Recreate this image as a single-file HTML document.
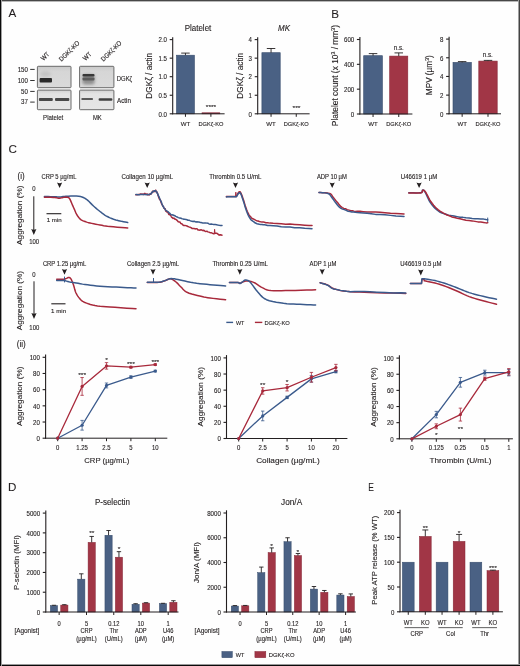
<!DOCTYPE html><html><head><meta charset="utf-8"><style>html,body{margin:0;padding:0;background:#fff;}svg{display:block;will-change:transform;font-family:"Liberation Sans",sans-serif;}</style></head><body>
<svg width="520" height="666" viewBox="0 0 520 666">
<defs><filter id="blur1" x="-50%" y="-50%" width="200%" height="200%"><feGaussianBlur stdDeviation="0.7"/></filter><filter id="blur2" x="-50%" y="-50%" width="200%" height="200%"><feGaussianBlur stdDeviation="1.4"/></filter><filter id="blur05" x="-50%" y="-50%" width="200%" height="200%"><feGaussianBlur stdDeviation="0.45"/></filter><linearGradient id="gu" x1="0" x2="0" y1="0" y2="1"><stop offset="0" stop-color="#c9c9c9"/><stop offset="0.25" stop-color="#d6d6d6"/><stop offset="1" stop-color="#dadada"/></linearGradient><linearGradient id="gl" x1="0" x2="0" y1="0" y2="1"><stop offset="0" stop-color="#d2d2d2"/><stop offset="0.2" stop-color="#e3e3e3"/><stop offset="1" stop-color="#e6e6e6"/></linearGradient></defs>
<rect x="0" y="0" width="520" height="666" fill="#fefefe"/>
<text x="8.60" y="17.19" font-size="11.6" text-anchor="start" fill="#231f20" stroke="#231f20" stroke-width="0.1" >A</text>
<text x="331.20" y="17.59" font-size="11.6" text-anchor="start" fill="#231f20" stroke="#231f20" stroke-width="0.1" >B</text>
<text x="8.40" y="152.99" font-size="11.6" text-anchor="start" fill="#231f20" stroke="#231f20" stroke-width="0.1" >C</text>
<text x="7.90" y="490.59" font-size="11.6" text-anchor="start" fill="#231f20" stroke="#231f20" stroke-width="0.1" >D</text>
<text x="368.30" y="490.69" font-size="11.6" text-anchor="start" fill="#231f20" textLength="5.60" lengthAdjust="spacingAndGlyphs" stroke="#231f20" stroke-width="0.1" >E</text>
<text transform="translate(43.40,61.10) rotate(-45)" x="0" y="0" font-size="6.6" fill="#231f20" stroke="#231f20" stroke-width="0.12" textLength="9.23" lengthAdjust="spacingAndGlyphs">WT</text>
<text transform="translate(61.60,61.80) rotate(-45)" x="0" y="0" font-size="6.6" fill="#231f20" stroke="#231f20" stroke-width="0.12" textLength="26.05" lengthAdjust="spacingAndGlyphs">DGKζ-KO</text>
<text transform="translate(85.60,61.10) rotate(-45)" x="0" y="0" font-size="6.6" fill="#231f20" stroke="#231f20" stroke-width="0.12" textLength="9.23" lengthAdjust="spacingAndGlyphs">WT</text>
<text transform="translate(103.60,61.80) rotate(-45)" x="0" y="0" font-size="6.6" fill="#231f20" stroke="#231f20" stroke-width="0.12" textLength="26.05" lengthAdjust="spacingAndGlyphs">DGKζ-KO</text>
<text x="27.90" y="71.74" font-size="6.8" text-anchor="end" fill="#231f20" textLength="10.21" lengthAdjust="spacingAndGlyphs" stroke="#231f20" stroke-width="0.12" >150</text>
<line x1="30.20" y1="69.40" x2="34.70" y2="69.40" stroke="#333" stroke-width="1.0" />
<text x="27.90" y="82.84" font-size="6.8" text-anchor="end" fill="#231f20" textLength="10.21" lengthAdjust="spacingAndGlyphs" stroke="#231f20" stroke-width="0.12" >100</text>
<line x1="30.20" y1="80.50" x2="34.70" y2="80.50" stroke="#333" stroke-width="1.0" />
<text x="27.90" y="93.74" font-size="6.8" text-anchor="end" fill="#231f20" textLength="6.81" lengthAdjust="spacingAndGlyphs" stroke="#231f20" stroke-width="0.12" >50</text>
<line x1="30.20" y1="91.40" x2="34.70" y2="91.40" stroke="#333" stroke-width="1.0" />
<text x="27.90" y="104.44" font-size="6.8" text-anchor="end" fill="#231f20" textLength="6.81" lengthAdjust="spacingAndGlyphs" stroke="#231f20" stroke-width="0.12" >37</text>
<line x1="30.20" y1="102.10" x2="34.70" y2="102.10" stroke="#333" stroke-width="1.0" />
<rect x="37.4" y="66.3" width="33.60" height="21.4" rx="0.8" fill="url(#gu)" stroke="#6a6a6a" stroke-width="1.0"/>
<rect x="37.4" y="90.1" width="33.60" height="19.6" rx="0.8" fill="url(#gl)" stroke="#6a6a6a" stroke-width="1.0"/>
<rect x="79.6" y="66.3" width="34.30" height="21.4" rx="0.8" fill="url(#gu)" stroke="#6a6a6a" stroke-width="1.0"/>
<rect x="79.6" y="90.1" width="34.30" height="19.6" rx="0.8" fill="url(#gl)" stroke="#6a6a6a" stroke-width="1.0"/>
<g filter="url(#blur2)"><ellipse cx="45.5" cy="74.0" rx="5.5" ry="3.0" fill="#c4c4c4"/></g>
<g filter="url(#blur1)"><rect x="39.6" y="77.9" width="12.4" height="4.6" rx="1.0" fill="#2a2a2a"/></g>
<g filter="url(#blur1)"><rect x="38.9" y="98.1" width="13.9" height="3.0" rx="1.0" fill="#484848"/><rect x="55.0" y="98.1" width="14.3" height="3.0" rx="1.0" fill="#484848"/></g>
<g filter="url(#blur2)"><rect x="82.5" y="74.5" width="12" height="10" rx="2" fill="#8e8e8e"/></g>
<g filter="url(#blur1)"><rect x="82.5" y="73.9" width="12" height="2.6" rx="1.0" fill="#383838"/><rect x="82.5" y="77.6" width="12" height="2.8" rx="1.0" fill="#5c5c5c"/></g>
<g filter="url(#blur1)"><rect x="81.3" y="98.1" width="11.7" height="1.9" rx="0.8" fill="#5a5a5a"/><rect x="98.6" y="98.2" width="13.8" height="2.6" rx="1.0" fill="#404040"/></g>
<text x="116.80" y="81.40" font-size="6.4" text-anchor="start" fill="#231f20" textLength="15.36" lengthAdjust="spacingAndGlyphs" stroke="#231f20" stroke-width="0.12" >DGKζ</text>
<text x="117.00" y="102.90" font-size="6.4" text-anchor="start" fill="#231f20" textLength="13.90" lengthAdjust="spacingAndGlyphs" stroke="#231f20" stroke-width="0.12" >Actin</text>
<text x="53.20" y="120.20" font-size="6.4" text-anchor="middle" fill="#231f20" textLength="20.20" lengthAdjust="spacingAndGlyphs" stroke="#231f20" stroke-width="0.12" >Platelet</text>
<text x="97.30" y="120.00" font-size="6.4" text-anchor="middle" fill="#231f20" textLength="8.80" lengthAdjust="spacingAndGlyphs" stroke="#231f20" stroke-width="0.12" >MK</text>
<text x="198.00" y="30.66" font-size="8.3" text-anchor="middle" fill="#231f20" textLength="26.58" lengthAdjust="spacingAndGlyphs" stroke="#231f20" stroke-width="0.12" >Platelet</text>
<line x1="172.70" y1="37.20" x2="172.70" y2="114.30" stroke="#231f20" stroke-width="1.1" />
<line x1="169.70" y1="113.80" x2="172.70" y2="113.80" stroke="#231f20" stroke-width="1.1" />
<text x="167.00" y="116.54" font-size="6.8" text-anchor="end" fill="#231f20" textLength="8.51" lengthAdjust="spacingAndGlyphs" stroke="#231f20" stroke-width="0.12" >0.0</text>
<line x1="169.70" y1="95.25" x2="172.70" y2="95.25" stroke="#231f20" stroke-width="1.1" />
<text x="167.00" y="97.99" font-size="6.8" text-anchor="end" fill="#231f20" textLength="8.51" lengthAdjust="spacingAndGlyphs" stroke="#231f20" stroke-width="0.12" >0.5</text>
<line x1="169.70" y1="76.70" x2="172.70" y2="76.70" stroke="#231f20" stroke-width="1.1" />
<text x="167.00" y="79.44" font-size="6.8" text-anchor="end" fill="#231f20" textLength="8.51" lengthAdjust="spacingAndGlyphs" stroke="#231f20" stroke-width="0.12" >1.0</text>
<line x1="169.70" y1="58.15" x2="172.70" y2="58.15" stroke="#231f20" stroke-width="1.1" />
<text x="167.00" y="60.89" font-size="6.8" text-anchor="end" fill="#231f20" textLength="8.51" lengthAdjust="spacingAndGlyphs" stroke="#231f20" stroke-width="0.12" >1.5</text>
<line x1="169.70" y1="39.60" x2="172.70" y2="39.60" stroke="#231f20" stroke-width="1.1" />
<text x="167.00" y="42.34" font-size="6.8" text-anchor="end" fill="#231f20" textLength="8.51" lengthAdjust="spacingAndGlyphs" stroke="#231f20" stroke-width="0.12" >2.0</text>
<rect x="176.50" y="55.20" width="17.90" height="58.60" fill="#4a6184" stroke="#354a6a" stroke-width="0.6" />
<line x1="185.45" y1="53.10" x2="185.45" y2="55.20" stroke="#231f20" stroke-width="0.9" />
<line x1="181.20" y1="53.10" x2="189.70" y2="53.10" stroke="#231f20" stroke-width="0.9" />
<rect x="202.00" y="112.80" width="17.80" height="1.00" fill="#a13646" stroke="#862636" stroke-width="0.6" />
<line x1="172.20" y1="113.80" x2="224.60" y2="113.80" stroke="#231f20" stroke-width="1.0" />
<line x1="185.45" y1="113.80" x2="185.45" y2="116.80" stroke="#231f20" stroke-width="1.0" />
<line x1="210.90" y1="113.80" x2="210.90" y2="116.80" stroke="#231f20" stroke-width="1.0" />
<text x="211.00" y="108.73" font-size="6.2" text-anchor="middle" fill="#231f20" textLength="10.40" lengthAdjust="spacingAndGlyphs" stroke="#231f20" stroke-width="0.12" >****</text>
<text x="185.45" y="125.93" font-size="6.2" text-anchor="middle" fill="#231f20" textLength="9.50" lengthAdjust="spacingAndGlyphs" stroke="#231f20" stroke-width="0.12" >WT</text>
<text x="210.90" y="125.93" font-size="6.2" text-anchor="middle" fill="#231f20" textLength="25.00" lengthAdjust="spacingAndGlyphs" stroke="#231f20" stroke-width="0.12" >DGKζ-KO</text>
<text transform="translate(149.50,75.80) rotate(-90)" x="0" y="2.96" font-size="8.6" text-anchor="middle" fill="#231f20" textLength="45.80" lengthAdjust="spacingAndGlyphs" stroke="#231f20" stroke-width="0.12" >DGKζ / actin</text>
<text x="284.00" y="30.66" font-size="8.3" text-anchor="middle" fill="#231f20" textLength="11.95" lengthAdjust="spacingAndGlyphs" stroke="#231f20" stroke-width="0.12" font-style="italic">MK</text>
<line x1="257.70" y1="37.20" x2="257.70" y2="114.30" stroke="#231f20" stroke-width="1.1" />
<line x1="254.70" y1="113.80" x2="257.70" y2="113.80" stroke="#231f20" stroke-width="1.1" />
<text x="252.00" y="116.54" font-size="6.8" text-anchor="end" fill="#231f20" textLength="3.40" lengthAdjust="spacingAndGlyphs" stroke="#231f20" stroke-width="0.12" >0</text>
<line x1="254.70" y1="95.25" x2="257.70" y2="95.25" stroke="#231f20" stroke-width="1.1" />
<text x="252.00" y="97.99" font-size="6.8" text-anchor="end" fill="#231f20" textLength="3.40" lengthAdjust="spacingAndGlyphs" stroke="#231f20" stroke-width="0.12" >1</text>
<line x1="254.70" y1="76.70" x2="257.70" y2="76.70" stroke="#231f20" stroke-width="1.1" />
<text x="252.00" y="79.44" font-size="6.8" text-anchor="end" fill="#231f20" textLength="3.40" lengthAdjust="spacingAndGlyphs" stroke="#231f20" stroke-width="0.12" >2</text>
<line x1="254.70" y1="58.15" x2="257.70" y2="58.15" stroke="#231f20" stroke-width="1.1" />
<text x="252.00" y="60.89" font-size="6.8" text-anchor="end" fill="#231f20" textLength="3.40" lengthAdjust="spacingAndGlyphs" stroke="#231f20" stroke-width="0.12" >3</text>
<line x1="254.70" y1="39.60" x2="257.70" y2="39.60" stroke="#231f20" stroke-width="1.1" />
<text x="252.00" y="42.34" font-size="6.8" text-anchor="end" fill="#231f20" textLength="3.40" lengthAdjust="spacingAndGlyphs" stroke="#231f20" stroke-width="0.12" >4</text>
<rect x="261.90" y="52.70" width="18.30" height="61.10" fill="#4a6184" stroke="#354a6a" stroke-width="0.6" />
<line x1="271.05" y1="48.50" x2="271.05" y2="52.70" stroke="#231f20" stroke-width="0.9" />
<line x1="266.80" y1="48.50" x2="275.30" y2="48.50" stroke="#231f20" stroke-width="0.9" />
<rect x="287.50" y="113.80" width="17.50" height="0.00" fill="#a13646" stroke="#862636" stroke-width="0.6" />
<line x1="257.20" y1="113.80" x2="309.60" y2="113.80" stroke="#231f20" stroke-width="1.0" />
<line x1="271.05" y1="113.80" x2="271.05" y2="116.80" stroke="#231f20" stroke-width="1.0" />
<line x1="296.25" y1="113.80" x2="296.25" y2="116.80" stroke="#231f20" stroke-width="1.0" />
<text x="296.50" y="109.93" font-size="6.2" text-anchor="middle" fill="#231f20" textLength="7.80" lengthAdjust="spacingAndGlyphs" stroke="#231f20" stroke-width="0.12" >***</text>
<text x="271.05" y="125.93" font-size="6.2" text-anchor="middle" fill="#231f20" textLength="9.50" lengthAdjust="spacingAndGlyphs" stroke="#231f20" stroke-width="0.12" >WT</text>
<text x="296.25" y="125.93" font-size="6.2" text-anchor="middle" fill="#231f20" textLength="25.00" lengthAdjust="spacingAndGlyphs" stroke="#231f20" stroke-width="0.12" >DGKζ-KO</text>
<text transform="translate(240.50,75.80) rotate(-90)" x="0" y="2.96" font-size="8.6" text-anchor="middle" fill="#231f20" textLength="45.80" lengthAdjust="spacingAndGlyphs" stroke="#231f20" stroke-width="0.12" >DGKζ / actin</text>
<line x1="359.90" y1="37.10" x2="359.90" y2="114.50" stroke="#231f20" stroke-width="1.1" />
<line x1="356.90" y1="114.00" x2="359.90" y2="114.00" stroke="#231f20" stroke-width="1.1" />
<text x="354.20" y="116.74" font-size="6.8" text-anchor="end" fill="#231f20" textLength="3.40" lengthAdjust="spacingAndGlyphs" stroke="#231f20" stroke-width="0.12" >0</text>
<line x1="356.90" y1="89.17" x2="359.90" y2="89.17" stroke="#231f20" stroke-width="1.1" />
<text x="354.20" y="91.91" font-size="6.8" text-anchor="end" fill="#231f20" textLength="10.21" lengthAdjust="spacingAndGlyphs" stroke="#231f20" stroke-width="0.12" >200</text>
<line x1="356.90" y1="64.33" x2="359.90" y2="64.33" stroke="#231f20" stroke-width="1.1" />
<text x="354.20" y="67.07" font-size="6.8" text-anchor="end" fill="#231f20" textLength="10.21" lengthAdjust="spacingAndGlyphs" stroke="#231f20" stroke-width="0.12" >400</text>
<line x1="356.90" y1="39.50" x2="359.90" y2="39.50" stroke="#231f20" stroke-width="1.1" />
<text x="354.20" y="42.24" font-size="6.8" text-anchor="end" fill="#231f20" textLength="10.21" lengthAdjust="spacingAndGlyphs" stroke="#231f20" stroke-width="0.12" >600</text>
<rect x="363.70" y="55.70" width="18.70" height="58.30" fill="#4a6184" stroke="#354a6a" stroke-width="0.6" />
<line x1="373.05" y1="53.60" x2="373.05" y2="55.70" stroke="#231f20" stroke-width="0.9" />
<line x1="368.80" y1="53.60" x2="377.30" y2="53.60" stroke="#231f20" stroke-width="0.9" />
<rect x="389.70" y="56.10" width="18.10" height="57.90" fill="#a13646" stroke="#862636" stroke-width="0.6" />
<line x1="398.75" y1="52.90" x2="398.75" y2="56.10" stroke="#231f20" stroke-width="0.9" />
<line x1="394.50" y1="52.90" x2="403.00" y2="52.90" stroke="#231f20" stroke-width="0.9" />
<line x1="359.40" y1="114.00" x2="412.40" y2="114.00" stroke="#231f20" stroke-width="1.0" />
<line x1="373.05" y1="114.00" x2="373.05" y2="117.00" stroke="#231f20" stroke-width="1.0" />
<line x1="398.75" y1="114.00" x2="398.75" y2="117.00" stroke="#231f20" stroke-width="1.0" />
<text x="398.80" y="50.27" font-size="6.6" text-anchor="middle" fill="#231f20" textLength="10.11" lengthAdjust="spacingAndGlyphs" stroke="#231f20" stroke-width="0.12" >n.s.</text>
<text x="373.05" y="125.93" font-size="6.2" text-anchor="middle" fill="#231f20" textLength="9.50" lengthAdjust="spacingAndGlyphs" stroke="#231f20" stroke-width="0.12" >WT</text>
<text x="398.75" y="125.93" font-size="6.2" text-anchor="middle" fill="#231f20" textLength="25.00" lengthAdjust="spacingAndGlyphs" stroke="#231f20" stroke-width="0.12" >DGKζ-KO</text>
<text transform="translate(335.2,75.6) rotate(-90)" x="0" y="2.9" font-size="8.4" text-anchor="middle" fill="#231f20" stroke="#231f20" stroke-width="0.12">Platelet count (x 10<tspan font-size="5.2" dy="-3.2">3</tspan><tspan dy="3.2"> / mm</tspan><tspan font-size="5.2" dy="-3.2">3</tspan><tspan dy="3.2">)</tspan></text>
<line x1="449.10" y1="36.70" x2="449.10" y2="114.30" stroke="#231f20" stroke-width="1.1" />
<line x1="446.10" y1="113.80" x2="449.10" y2="113.80" stroke="#231f20" stroke-width="1.1" />
<text x="443.40" y="116.54" font-size="6.8" text-anchor="end" fill="#231f20" textLength="3.40" lengthAdjust="spacingAndGlyphs" stroke="#231f20" stroke-width="0.12" >0</text>
<line x1="446.10" y1="95.12" x2="449.10" y2="95.12" stroke="#231f20" stroke-width="1.1" />
<text x="443.40" y="97.86" font-size="6.8" text-anchor="end" fill="#231f20" textLength="3.40" lengthAdjust="spacingAndGlyphs" stroke="#231f20" stroke-width="0.12" >2</text>
<line x1="446.10" y1="76.45" x2="449.10" y2="76.45" stroke="#231f20" stroke-width="1.1" />
<text x="443.40" y="79.19" font-size="6.8" text-anchor="end" fill="#231f20" textLength="3.40" lengthAdjust="spacingAndGlyphs" stroke="#231f20" stroke-width="0.12" >4</text>
<line x1="446.10" y1="57.78" x2="449.10" y2="57.78" stroke="#231f20" stroke-width="1.1" />
<text x="443.40" y="60.51" font-size="6.8" text-anchor="end" fill="#231f20" textLength="3.40" lengthAdjust="spacingAndGlyphs" stroke="#231f20" stroke-width="0.12" >6</text>
<line x1="446.10" y1="39.10" x2="449.10" y2="39.10" stroke="#231f20" stroke-width="1.1" />
<text x="443.40" y="41.84" font-size="6.8" text-anchor="end" fill="#231f20" textLength="3.40" lengthAdjust="spacingAndGlyphs" stroke="#231f20" stroke-width="0.12" >8</text>
<rect x="453.00" y="62.40" width="18.30" height="51.40" fill="#4a6184" stroke="#354a6a" stroke-width="0.6" />
<line x1="462.15" y1="61.60" x2="462.15" y2="62.40" stroke="#231f20" stroke-width="0.9" />
<line x1="457.90" y1="61.60" x2="466.40" y2="61.60" stroke="#231f20" stroke-width="0.9" />
<rect x="478.80" y="61.10" width="18.40" height="52.70" fill="#a13646" stroke="#862636" stroke-width="0.6" />
<line x1="488.00" y1="60.40" x2="488.00" y2="61.10" stroke="#231f20" stroke-width="0.9" />
<line x1="483.75" y1="60.40" x2="492.25" y2="60.40" stroke="#231f20" stroke-width="0.9" />
<line x1="448.60" y1="113.80" x2="501.00" y2="113.80" stroke="#231f20" stroke-width="1.0" />
<line x1="462.15" y1="113.80" x2="462.15" y2="116.80" stroke="#231f20" stroke-width="1.0" />
<line x1="488.00" y1="113.80" x2="488.00" y2="116.80" stroke="#231f20" stroke-width="1.0" />
<text x="487.80" y="57.07" font-size="6.6" text-anchor="middle" fill="#231f20" textLength="10.11" lengthAdjust="spacingAndGlyphs" stroke="#231f20" stroke-width="0.12" >n.s.</text>
<text x="462.15" y="125.93" font-size="6.2" text-anchor="middle" fill="#231f20" textLength="9.50" lengthAdjust="spacingAndGlyphs" stroke="#231f20" stroke-width="0.12" >WT</text>
<text x="488.00" y="125.93" font-size="6.2" text-anchor="middle" fill="#231f20" textLength="25.00" lengthAdjust="spacingAndGlyphs" stroke="#231f20" stroke-width="0.12" >DGKζ-KO</text>
<text transform="translate(429.2,75.2) rotate(-90)" x="0" y="2.9" font-size="8.2" text-anchor="middle" fill="#231f20" stroke="#231f20" stroke-width="0.12">MPV (µm<tspan font-size="5.2" dy="-3.2">3</tspan><tspan dy="3.2">)</tspan></text>
<text x="17.60" y="179.49" font-size="8.4" text-anchor="start" fill="#231f20" textLength="7.10" lengthAdjust="spacingAndGlyphs" stroke="#231f20" stroke-width="0.12" >(i)</text>
<text x="33.80" y="190.87" font-size="6.6" text-anchor="middle" fill="#231f20" textLength="3.30" lengthAdjust="spacingAndGlyphs" stroke="#231f20" stroke-width="0.12" >0</text>
<line x1="33.80" y1="196.30" x2="33.80" y2="231.50" stroke="#231f20" stroke-width="1.0" />
<path d="M31.20,229.00 Q33.80,230.40 36.40,229.00 L33.80,235.00 Z" fill="#231f20"/>
<text x="34.10" y="244.47" font-size="6.6" text-anchor="middle" fill="#231f20" textLength="9.91" lengthAdjust="spacingAndGlyphs" stroke="#231f20" stroke-width="0.12" >100</text>
<text transform="translate(19.30,215.20) rotate(-90)" x="0" y="2.72" font-size="7.9" text-anchor="middle" fill="#231f20" textLength="59.40" lengthAdjust="spacingAndGlyphs" stroke="#231f20" stroke-width="0.12" >Aggregation (%)</text>
<text x="34.00" y="276.57" font-size="6.6" text-anchor="middle" fill="#231f20" textLength="3.30" lengthAdjust="spacingAndGlyphs" stroke="#231f20" stroke-width="0.12" >0</text>
<line x1="34.00" y1="281.30" x2="34.00" y2="315.50" stroke="#231f20" stroke-width="1.0" />
<path d="M31.40,313.00 Q34.00,314.40 36.60,313.00 L34.00,319.00 Z" fill="#231f20"/>
<text x="34.30" y="329.57" font-size="6.6" text-anchor="middle" fill="#231f20" textLength="9.91" lengthAdjust="spacingAndGlyphs" stroke="#231f20" stroke-width="0.12" >100</text>
<text transform="translate(19.70,300.60) rotate(-90)" x="0" y="2.72" font-size="7.9" text-anchor="middle" fill="#231f20" textLength="59.40" lengthAdjust="spacingAndGlyphs" stroke="#231f20" stroke-width="0.12" >Aggregation (%)</text>
<line x1="46.50" y1="213.70" x2="61.30" y2="213.70" stroke="#231f20" stroke-width="1.1" />
<text x="54.20" y="222.13" font-size="6.2" text-anchor="middle" fill="#231f20" textLength="15.00" lengthAdjust="spacingAndGlyphs" stroke="#231f20" stroke-width="0.12" >1 min</text>
<line x1="51.30" y1="303.80" x2="65.50" y2="303.80" stroke="#231f20" stroke-width="1.1" />
<text x="58.60" y="312.63" font-size="6.2" text-anchor="middle" fill="#231f20" textLength="15.00" lengthAdjust="spacingAndGlyphs" stroke="#231f20" stroke-width="0.12" >1 min</text>
<text x="41.60" y="179.47" font-size="6.3" text-anchor="start" fill="#231f20" textLength="34.90" lengthAdjust="spacingAndGlyphs" stroke="#231f20" stroke-width="0.12" >CRP 5 µg/mL</text>
<path d="M57.00,182.40 Q59.60,184.00 62.20,182.40 L59.60,188.00 Z" fill="#231f20"/>
<text x="121.50" y="179.47" font-size="6.3" text-anchor="start" fill="#231f20" textLength="51.60" lengthAdjust="spacingAndGlyphs" stroke="#231f20" stroke-width="0.12" >Collagen 10 µg/mL</text>
<path d="M144.60,182.40 Q147.20,184.00 149.80,182.40 L147.20,188.00 Z" fill="#231f20"/>
<text x="209.20" y="179.47" font-size="6.3" text-anchor="start" fill="#231f20" textLength="52.30" lengthAdjust="spacingAndGlyphs" stroke="#231f20" stroke-width="0.12" >Thrombin 0.5 U/mL</text>
<path d="M232.90,182.40 Q235.50,184.00 238.10,182.40 L235.50,188.00 Z" fill="#231f20"/>
<text x="316.90" y="179.47" font-size="6.3" text-anchor="start" fill="#231f20" textLength="30.00" lengthAdjust="spacingAndGlyphs" stroke="#231f20" stroke-width="0.12" >ADP 10 µM</text>
<path d="M329.60,182.40 Q332.20,184.00 334.80,182.40 L332.20,188.00 Z" fill="#231f20"/>
<text x="400.80" y="179.47" font-size="6.3" text-anchor="start" fill="#231f20" textLength="36.40" lengthAdjust="spacingAndGlyphs" stroke="#231f20" stroke-width="0.12" >U46619 1 µM</text>
<path d="M416.50,182.40 Q419.10,184.00 421.70,182.40 L419.10,188.00 Z" fill="#231f20"/>
<text x="42.90" y="266.17" font-size="6.3" text-anchor="start" fill="#231f20" textLength="43.30" lengthAdjust="spacingAndGlyphs" stroke="#231f20" stroke-width="0.12" >CRP 1.25 µg/mL</text>
<path d="M61.90,268.90 Q64.50,270.50 67.10,268.90 L64.50,274.80 Z" fill="#231f20"/>
<text x="127.00" y="266.17" font-size="6.3" text-anchor="start" fill="#231f20" textLength="52.20" lengthAdjust="spacingAndGlyphs" stroke="#231f20" stroke-width="0.12" >Collagen 2.5 µg/mL</text>
<path d="M150.40,268.90 Q153.00,270.50 155.60,268.90 L153.00,274.80 Z" fill="#231f20"/>
<text x="212.40" y="266.17" font-size="6.3" text-anchor="start" fill="#231f20" textLength="55.60" lengthAdjust="spacingAndGlyphs" stroke="#231f20" stroke-width="0.12" >Thrombin 0.25 U/mL</text>
<path d="M237.20,268.90 Q239.80,270.50 242.40,268.90 L239.80,274.80 Z" fill="#231f20"/>
<text x="309.50" y="266.17" font-size="6.3" text-anchor="start" fill="#231f20" textLength="26.90" lengthAdjust="spacingAndGlyphs" stroke="#231f20" stroke-width="0.12" >ADP 1 µM</text>
<path d="M319.60,268.90 Q322.20,270.50 324.80,268.90 L322.20,274.80 Z" fill="#231f20"/>
<text x="400.20" y="266.17" font-size="6.3" text-anchor="start" fill="#231f20" textLength="41.30" lengthAdjust="spacingAndGlyphs" stroke="#231f20" stroke-width="0.12" >U46619 0.5 µM</text>
<path d="M418.10,269.40 Q420.80,271.00 423.50,269.40 L420.80,275.60 Z" fill="#231f20"/>
<polyline points="44.40,196.50 45.93,196.54 48.15,196.60 50.65,196.67 53.07,196.74 55.00,196.80 56.34,196.86 57.36,196.93 58.20,196.99 59.03,197.02 60.00,197.00 61.03,196.91 62.01,196.75 63.07,196.57 64.36,196.41 66.00,196.30 68.20,196.21 70.86,196.12 73.69,196.07 76.40,196.12 78.70,196.30 80.50,196.60 82.00,196.98 83.32,197.48 84.61,198.14 86.00,199.00 87.50,200.15 89.03,201.56 90.56,203.10 92.06,204.63 93.50,206.00 94.87,207.22 96.20,208.37 97.48,209.46 98.75,210.50 100.00,211.50 101.22,212.45 102.39,213.36 103.55,214.22 104.74,215.03 106.00,215.80 107.34,216.53 108.73,217.22 110.15,217.86 111.58,218.45 113.00,219.00 114.39,219.48 115.77,219.91 117.15,220.29 118.56,220.65 120.00,221.00 121.62,221.36 123.40,221.71 125.14,222.03 126.64,222.30 127.70,222.50" fill="none" stroke="#3a5a8c" stroke-width="1.5" stroke-linejoin="round" stroke-linecap="round" />
<polyline points="44.40,197.20 45.95,197.23 48.19,197.27 50.73,197.33 53.13,197.40 55.00,197.50 56.22,197.65 57.08,197.86 57.72,198.07 58.31,198.23 59.00,198.30 59.80,198.23 60.60,198.07 61.40,197.86 62.20,197.65 63.00,197.50 63.82,197.38 64.67,197.27 65.51,197.18 66.30,197.15 67.00,197.20 67.60,197.29 68.11,197.40 68.57,197.60 69.02,197.95 69.50,198.50 70.00,199.33 70.50,200.40 71.01,201.61 71.51,202.84 72.00,204.00 72.48,205.08 72.96,206.16 73.43,207.23 73.91,208.31 74.40,209.40 74.89,210.52 75.37,211.67 75.86,212.82 76.40,213.94 77.00,215.00 77.68,216.03 78.41,217.04 79.19,218.00 80.00,218.87 80.80,219.60 81.60,220.16 82.41,220.57 83.24,220.90 84.10,221.19 85.00,221.50 85.87,221.82 86.70,222.10 87.60,222.38 88.67,222.67 90.00,223.00 91.68,223.38 93.64,223.79 95.76,224.21 97.92,224.62 100.00,225.00 101.88,225.33 103.63,225.64 105.45,225.92 107.51,226.21 110.00,226.50 113.33,226.82 117.38,227.17 121.52,227.51 125.17,227.80 127.70,228.00" fill="none" stroke="#a8293b" stroke-width="1.5" stroke-linejoin="round" stroke-linecap="round" />
<polyline points="135.90,194.80 136.26,194.76 136.72,194.71 137.25,194.64 137.86,194.56 138.51,194.49 139.20,194.41 139.91,194.34 140.62,193.91 141.33,194.11 142.00,193.96 142.68,194.22 143.41,194.41 144.16,193.75 144.93,193.38 145.69,194.38 146.44,194.10 147.17,193.93 147.84,194.91 148.46,194.63 149.00,194.96 149.47,194.54 149.87,194.47 150.22,193.65 150.52,193.81 150.79,194.11 151.04,193.66 151.28,193.62 151.51,193.40 151.75,192.33 152.00,192.68 152.26,192.51 152.51,191.90 152.74,191.10 152.98,191.74 153.20,191.40 153.42,191.47 153.64,191.65 153.86,191.44 154.08,191.58 154.30,190.91 154.52,191.14 154.74,190.75 154.96,191.26 155.17,191.47 155.39,190.52 155.60,190.17 155.82,190.20 156.04,191.38 156.27,191.37 156.50,191.81 156.73,191.77 156.94,192.24 157.16,192.54 157.37,192.90 157.59,193.68 157.82,194.38 158.07,195.50 158.35,196.10 158.66,197.12 159.00,197.94 159.39,199.01 159.82,199.64 160.29,199.81 160.78,201.46 161.29,203.02 161.81,204.29 162.33,205.00 162.84,206.06 163.33,206.33 163.80,207.71 164.24,208.37 164.68,208.62 165.10,208.72 165.52,210.15 165.93,211.31 166.34,210.87 166.75,211.88 167.16,212.08 167.58,212.05 168.00,212.48 168.41,213.57 168.80,214.46 169.18,213.91 169.55,214.61 169.93,214.34 170.33,215.32 170.76,215.46 171.22,216.51 171.73,217.40 172.30,217.45 172.92,218.45 173.59,218.30 174.29,218.22 175.02,219.24 175.79,219.29 176.59,219.87 177.41,220.77 178.26,221.79 179.12,221.94 180.00,222.09 180.91,223.55 181.85,223.71 182.83,224.91 183.83,225.61 184.86,225.43 185.89,225.63 186.93,226.00 187.96,226.53 188.99,226.90 190.00,227.21 191.00,227.61 192.00,228.42 193.00,228.38 194.00,228.39 195.00,228.95 196.00,228.70 197.00,228.80 198.00,229.93 199.00,230.00 200.00,230.20 200.99,229.69 201.97,230.12 202.94,230.69 203.90,230.31 204.88,231.07 205.86,231.60 206.85,231.18 207.87,231.89 208.92,232.14 210.00,232.70 211.17,232.67 212.46,233.31 213.83,233.83 215.23,233.25 216.62,233.17 217.97,234.13 219.22,235.14 220.34,234.76 221.28,234.94 222.00,235.28" fill="none" stroke="#a8293b" stroke-width="1.5" stroke-linejoin="round" stroke-linecap="round" />
<polyline points="214.30,233.00 214.60,229.30 215.00,233.20" fill="none" stroke="#a8293b" stroke-width="1.0" stroke-linejoin="round" stroke-linecap="round" />
<polyline points="135.90,194.60 136.72,194.61 137.84,194.63 139.19,194.67 140.68,194.59 142.26,194.60 143.86,194.57 145.40,194.59 146.82,194.71 148.04,194.55 149.00,194.46 149.71,194.57 150.26,194.07 150.66,194.03 150.96,193.99 151.18,193.59 151.34,193.21 151.47,193.25 151.61,192.81 151.77,192.46 152.00,192.34 152.26,192.34 152.51,191.87 152.74,191.66 152.98,191.45 153.20,191.55 153.42,191.28 153.64,191.32 153.86,190.87 154.08,190.72 154.30,190.82 154.52,191.01 154.74,190.85 154.96,190.65 155.17,190.52 155.39,190.74 155.60,190.72 155.82,191.17 156.04,191.52 156.27,191.44 156.50,191.63 156.73,192.23 156.94,192.62 157.16,193.14 157.37,193.37 157.59,193.61 157.82,194.12 158.07,195.00 158.35,195.46 158.66,196.11 159.00,196.88 159.39,197.74 159.82,198.71 160.29,200.09 160.78,200.91 161.29,201.83 161.81,203.43 162.33,204.73 162.84,205.95 163.33,206.65 163.80,207.66 164.24,208.44 164.68,208.68 165.10,209.36 165.52,209.97 165.93,210.37 166.34,210.67 166.75,210.85 167.16,211.15 167.58,211.41 168.00,211.63 168.41,212.22 168.80,212.46 169.18,213.03 169.55,212.97 169.93,213.57 170.33,213.85 170.76,214.25 171.22,214.56 171.73,214.86 172.30,214.97 172.92,214.85 173.59,215.40 174.29,215.51 175.02,215.81 175.79,216.36 176.59,216.72 177.41,217.00 178.26,217.62 179.12,217.89 180.00,218.00 180.91,218.14 181.85,218.70 182.83,218.88 183.83,219.28 184.86,219.34 185.89,219.40 186.93,219.74 187.96,220.20 188.99,220.15 190.00,220.62 191.00,221.03 192.00,221.28 193.00,221.52 194.00,221.25 195.00,221.58 196.00,221.99 197.00,221.80 198.00,221.92 199.00,222.08 200.00,222.39 200.99,222.57 201.97,222.76 202.94,223.11 203.90,222.89 204.88,222.89 205.86,222.99 206.85,223.12 207.87,223.22 208.92,223.89 210.00,224.24 211.17,224.04 212.46,224.29 213.83,224.41 215.23,224.56 216.62,224.76 217.97,225.13 219.22,225.36 220.34,225.41 221.28,225.38 222.00,225.49" fill="none" stroke="#3a5a8c" stroke-width="1.5" stroke-linejoin="round" stroke-linecap="round" />
<polyline points="226.40,196.60 227.68,196.57 229.56,196.53 231.66,196.49 233.60,196.44 235.00,196.40 235.75,196.42 236.09,196.49 236.20,196.53 236.28,196.46 236.50,196.20 236.87,195.63 237.26,194.80 237.68,193.90 238.09,193.07 238.50,192.50 238.88,192.11 239.25,191.79 239.63,191.64 240.04,191.78 240.50,192.30 241.05,193.35 241.68,194.87 242.32,196.63 242.95,198.41 243.50,200.00 243.95,201.36 244.32,202.64 244.68,203.89 245.05,205.16 245.50,206.50 246.03,207.99 246.60,209.58 247.22,211.18 247.85,212.69 248.50,214.00 249.16,215.10 249.84,216.06 250.54,216.67 251.26,217.55 252.00,218.39 252.74,218.84 253.47,219.06 254.23,219.38 255.06,219.81 256.00,220.34 257.04,220.89 258.16,221.06 259.36,221.54 260.64,221.80 262.00,221.94 263.28,222.09 264.48,222.33 265.84,222.67 267.60,222.78 270.00,223.12 273.20,223.29 277.04,223.39 281.28,223.75 285.68,224.15 290.00,224.09 294.62,224.39 299.71,224.65 304.69,225.15 308.98,225.51 312.00,225.40" fill="none" stroke="#a8293b" stroke-width="1.5" stroke-linejoin="round" stroke-linecap="round" />
<polyline points="235.60,196.40 235.80,192.20 236.20,196.30" fill="none" stroke="#a8293b" stroke-width="1.0" stroke-linejoin="round" stroke-linecap="round" />
<polyline points="226.40,196.90 227.68,196.87 229.56,196.83 231.66,196.79 233.60,196.74 235.00,196.70 235.75,196.70 236.09,196.75 236.20,196.78 236.28,196.72 236.50,196.50 236.87,196.03 237.26,195.37 237.68,194.63 238.09,193.97 238.50,193.50 238.88,193.15 239.25,192.82 239.63,192.64 240.04,192.76 240.50,193.30 241.05,194.43 241.68,196.06 242.32,197.94 242.95,199.83 243.50,201.50 243.95,202.89 244.32,204.16 244.68,205.39 245.05,206.64 245.50,208.00 246.03,209.53 246.60,211.18 247.22,212.84 247.85,214.42 248.50,215.80 249.16,216.97 249.84,218.01 250.54,219.17 251.26,220.04 252.00,220.50 252.74,221.14 253.47,221.47 254.23,222.24 255.06,222.73 256.00,223.30 257.04,223.71 258.16,223.99 259.36,224.30 260.64,224.49 262.00,224.45 263.28,224.84 264.48,224.78 265.84,224.94 267.60,225.52 270.00,225.52 273.20,225.72 277.04,226.00 281.28,226.79 285.68,226.92 290.00,227.02 294.62,227.68 299.71,227.71 304.69,228.26 308.98,228.51 312.00,228.78" fill="none" stroke="#3a5a8c" stroke-width="1.5" stroke-linejoin="round" stroke-linecap="round" />
<polyline points="319.00,192.50 320.56,192.60 322.82,192.71 325.37,192.87 327.77,193.12 329.60,193.50 330.73,194.02 331.45,194.65 331.94,195.37 332.40,196.16 333.00,197.00 333.74,197.90 334.49,198.87 335.28,199.90 336.11,200.95 337.00,202.00 337.93,203.09 338.87,204.24 339.89,205.39 341.01,206.73 342.30,207.58 343.78,208.47 345.44,208.76 347.20,209.61 349.00,210.10 350.80,210.65 352.42,210.68 353.91,211.12 355.51,211.50 357.46,211.22 360.00,211.34 363.24,211.65 367.03,212.05 371.19,212.00 375.57,212.04 380.00,212.24 384.93,212.73 390.46,213.26 395.94,213.48 400.67,213.71 404.00,213.90" fill="none" stroke="#a8293b" stroke-width="1.5" stroke-linejoin="round" stroke-linecap="round" />
<polyline points="319.00,192.50 320.31,192.60 322.22,192.71 324.36,192.87 326.41,193.12 328.00,193.50 329.04,194.01 329.77,194.62 330.33,195.34 330.86,196.13 331.50,197.00 332.24,197.97 332.99,199.04 333.77,200.18 334.60,201.34 335.50,202.50 336.45,203.70 337.42,204.97 338.48,206.22 339.65,207.39 341.00,208.31 342.56,209.14 344.30,209.65 346.16,210.40 348.08,211.27 350.00,211.55 351.78,211.99 353.45,211.89 355.23,212.19 357.34,212.45 360.00,212.70 363.30,212.95 367.09,213.28 371.23,213.77 375.58,214.38 380.00,214.44 384.93,214.64 390.46,215.37 395.94,216.04 400.67,216.28 404.00,216.43" fill="none" stroke="#3a5a8c" stroke-width="1.5" stroke-linejoin="round" stroke-linecap="round" />
<polyline points="408.80,192.70 410.60,192.74 413.23,192.83 416.16,192.89 418.86,192.87 420.80,192.70 421.80,192.26 422.23,191.59 422.33,190.87 422.36,190.28 422.60,190.00 423.00,189.97 423.39,190.08 423.82,190.40 424.34,191.01 425.00,192.00 425.80,193.52 426.72,195.52 427.73,197.76 428.83,200.00 430.00,202.00 431.24,203.78 432.56,205.51 433.96,207.14 435.44,208.65 437.00,210.00 438.59,211.17 440.22,212.32 441.94,212.96 443.85,213.67 446.00,214.32 448.46,215.15 451.19,215.61 454.09,215.97 457.06,216.61 460.00,217.27 462.97,217.37 466.04,217.79 469.12,217.96 472.13,218.43 475.00,218.66 477.89,218.76 480.86,218.97 483.64,219.12 486.01,219.59 487.70,219.83" fill="none" stroke="#3a5a8c" stroke-width="1.5" stroke-linejoin="round" stroke-linecap="round" />
<polyline points="487.70,218.00 487.70,222.50" fill="none" stroke="#3a5a8c" stroke-width="1.0" stroke-linejoin="round" stroke-linecap="round" />
<polyline points="408.80,192.90 410.59,192.94 413.22,193.03 416.14,193.09 418.85,193.07 420.80,192.90 421.83,192.46 422.29,191.80 422.43,191.09 422.52,190.50 422.80,190.20 423.25,190.14 423.70,190.21 424.18,190.49 424.77,191.06 425.50,192.00 426.40,193.48 427.43,195.44 428.56,197.64 429.76,199.84 431.00,201.80 432.27,203.53 433.60,205.18 434.98,206.75 436.45,208.23 438.00,209.60 439.61,210.86 441.26,211.81 443.02,212.89 444.91,213.86 447.00,215.07 449.31,215.70 451.82,216.91 454.46,217.55 457.21,218.26 460.00,218.83 462.91,219.60 465.97,220.21 469.07,220.56 472.12,220.88 475.00,221.37 477.89,221.88 480.86,222.03 483.64,222.44 486.01,222.88 487.70,222.86" fill="none" stroke="#a8293b" stroke-width="1.5" stroke-linejoin="round" stroke-linecap="round" />
<polyline points="56.70,279.20 57.78,279.21 59.35,279.23 61.11,279.24 62.76,279.24 64.00,279.20 64.73,279.13 65.14,279.03 65.40,278.90 65.63,278.76 66.00,278.60 66.52,278.37 67.09,278.07 67.68,277.78 68.27,277.56 68.80,277.50 69.27,277.56 69.71,277.70 70.13,277.95 70.55,278.37 71.00,279.00 71.48,279.88 71.98,280.98 72.49,282.24 73.00,283.60 73.50,285.00 73.97,286.50 74.41,288.13 74.86,289.82 75.38,291.47 76.00,293.00 76.76,294.44 77.61,295.83 78.53,297.15 79.48,298.36 80.40,299.40 81.22,300.23 81.97,300.88 82.76,301.43 83.73,301.94 85.00,302.50 86.57,303.13 88.37,303.78 90.38,304.41 92.59,305.00 95.00,305.50 97.50,305.89 100.11,306.20 102.97,306.46 106.22,306.71 110.00,307.00 114.91,307.35 120.86,307.75 126.94,308.13 132.29,308.47 136.00,308.70" fill="none" stroke="#a8293b" stroke-width="1.5" stroke-linejoin="round" stroke-linecap="round" />
<polyline points="56.70,280.60 57.71,280.58 59.16,280.53 60.82,280.49 62.51,280.50 64.00,280.60 65.31,280.82 66.56,281.14 67.76,281.49 68.91,281.83 70.00,282.10 70.92,282.26 71.66,282.35 72.41,282.42 73.33,282.52 74.60,282.70 76.24,282.98 78.12,283.34 80.23,283.73 82.53,284.13 85.00,284.50 87.63,284.86 90.43,285.22 93.42,285.57 96.61,285.90 100.00,286.20 103.74,286.46 107.83,286.70 112.05,286.92 116.18,287.12 120.00,287.30 123.71,287.48 127.46,287.64 130.94,287.79 133.89,287.91 136.00,288.00" fill="none" stroke="#3a5a8c" stroke-width="1.5" stroke-linejoin="round" stroke-linecap="round" />
<polyline points="64.50,277.00 64.50,282.00" fill="none" stroke="#3a5a8c" stroke-width="1.0" stroke-linejoin="round" stroke-linecap="round" />
<polyline points="147.30,282.40 148.05,282.40 149.11,282.41 150.35,282.41 151.69,282.41 153.00,282.40 154.35,282.39 155.80,282.40 157.28,282.38 158.71,282.33 160.00,282.20 161.12,281.99 162.12,281.71 163.06,281.39 164.00,281.05 165.00,280.70 166.07,280.26 167.16,279.72 168.28,279.21 169.39,278.86 170.50,278.80 171.61,279.08 172.72,279.63 173.84,280.35 174.93,281.16 176.00,282.00 177.02,282.88 177.99,283.86 178.95,284.89 179.94,285.95 181.00,287.00 182.03,288.06 183.00,289.17 184.06,290.27 185.35,291.33 187.00,292.30 189.17,293.19 191.76,294.02 194.54,294.79 197.30,295.49 199.80,296.10 201.92,296.60 203.81,297.01 205.66,297.35 207.66,297.66 210.00,298.00 213.02,298.38 216.60,298.78 220.22,299.15 223.39,299.47 225.60,299.70" fill="none" stroke="#a8293b" stroke-width="1.5" stroke-linejoin="round" stroke-linecap="round" />
<polyline points="147.30,282.20 148.05,282.20 149.11,282.21 150.35,282.21 151.69,282.21 153.00,282.20 154.35,282.19 155.80,282.20 157.28,282.18 158.71,282.13 160.00,282.00 161.11,281.79 162.08,281.51 163.00,281.19 163.95,280.85 165.00,280.50 166.14,280.09 167.31,279.61 168.54,279.14 169.87,278.78 171.30,278.60 172.81,278.65 174.38,278.86 176.06,279.18 177.91,279.58 180.00,280.00 182.34,280.48 184.91,281.06 187.65,281.68 190.53,282.28 193.50,282.80 196.62,283.25 199.93,283.65 203.32,284.03 206.71,284.37 210.00,284.70 213.43,285.02 217.05,285.33 220.53,285.60 223.49,285.83 225.60,286.00" fill="none" stroke="#3a5a8c" stroke-width="1.5" stroke-linejoin="round" stroke-linecap="round" />
<polyline points="153.50,278.40 153.50,282.20" fill="none" stroke="#3a5a8c" stroke-width="1.0" stroke-linejoin="round" stroke-linecap="round" />
<polyline points="229.50,282.40 230.76,282.42 232.60,282.44 234.66,282.47 236.58,282.52 238.00,282.60 238.78,282.75 239.17,282.96 239.37,283.18 239.58,283.31 240.00,283.30 240.66,283.08 241.43,282.70 242.26,282.25 243.13,281.82 244.00,281.50 244.85,281.28 245.71,281.09 246.60,280.96 247.56,280.92 248.60,281.00 249.75,281.20 250.99,281.49 252.29,281.89 253.63,282.39 255.00,283.00 256.38,283.80 257.80,284.77 259.25,285.82 260.75,286.83 262.30,287.70 263.75,288.44 265.10,289.13 266.57,289.74 268.40,290.24 270.80,290.60 273.85,290.78 277.40,290.80 281.35,290.73 285.58,290.61 290.00,290.50 295.12,290.39 301.01,290.23 306.90,290.06 312.02,289.90 315.60,289.80" fill="none" stroke="#a8293b" stroke-width="1.5" stroke-linejoin="round" stroke-linecap="round" />
<polyline points="229.50,282.40 230.76,282.42 232.60,282.43 234.66,282.46 236.58,282.51 238.00,282.60 238.80,282.78 239.22,283.05 239.44,283.32 239.64,283.49 240.00,283.50 240.55,283.28 241.16,282.88 241.80,282.40 242.42,281.91 243.00,281.50 243.48,281.11 243.90,280.70 244.31,280.32 244.79,280.07 245.40,280.00 246.12,280.04 246.92,280.15 247.81,280.43 248.83,281.01 250.00,282.00 251.37,283.58 252.93,285.66 254.60,287.99 256.31,290.29 258.00,292.30 259.53,294.03 260.96,295.65 262.46,297.15 264.25,298.51 266.50,299.70 269.36,300.70 272.71,301.54 276.33,302.23 280.00,302.81 283.50,303.30 286.85,303.67 290.18,303.90 293.49,304.05 296.77,304.16 300.00,304.30 303.43,304.47 307.05,304.64 310.53,304.78 313.49,304.91 315.60,305.00" fill="none" stroke="#3a5a8c" stroke-width="1.5" stroke-linejoin="round" stroke-linecap="round" />
<polyline points="320.10,282.80 321.12,283.06 322.58,283.41 324.26,283.84 325.97,284.34 327.50,284.90 328.73,285.57 329.79,286.36 330.87,287.18 332.15,287.99 333.80,288.70 335.76,289.32 337.90,289.89 340.34,290.42 343.17,290.89 346.50,291.30 350.31,291.63 354.53,291.90 359.20,292.11 364.34,292.30 370.00,292.50 376.95,292.71 385.15,292.92 393.47,293.12 400.73,293.28 405.80,293.40" fill="none" stroke="#a8293b" stroke-width="1.5" stroke-linejoin="round" stroke-linecap="round" />
<polyline points="320.10,282.80 321.12,283.10 322.58,283.52 324.26,284.02 325.97,284.59 327.50,285.20 328.73,285.90 329.79,286.71 330.87,287.54 332.15,288.33 333.80,289.00 335.76,289.37 337.90,289.74 340.34,290.37 343.17,290.80 346.50,291.33 350.31,291.64 354.53,291.52 359.20,291.49 364.34,291.60 370.00,291.70 376.95,292.16 385.15,292.57 393.47,292.89 400.73,292.72 405.80,293.03" fill="none" stroke="#3a5a8c" stroke-width="1.5" stroke-linejoin="round" stroke-linecap="round" />
<polyline points="410.40,283.50 421.50,283.50 421.90,279.50 424.20,279.50" fill="none" stroke="#a8293b" stroke-width="1.5" stroke-linejoin="round" stroke-linecap="round" />
<polyline points="424.20,280.80 425.66,281.08 427.72,281.45 430.13,281.91 432.64,282.44 435.00,283.00 437.20,283.61 439.42,284.28 441.66,285.00 443.92,285.77 446.20,286.60 448.53,287.49 450.91,288.46 453.29,289.46 455.67,290.49 458.00,291.50 460.24,292.52 462.40,293.57 464.56,294.62 466.80,295.63 469.20,296.60 471.80,297.51 474.55,298.38 477.38,299.22 480.22,300.03 483.00,300.80 485.94,301.59 489.07,302.38 492.09,303.12 494.67,303.75 496.50,304.20" fill="none" stroke="#a8293b" stroke-width="1.5" stroke-linejoin="round" stroke-linecap="round" />
<polyline points="410.40,283.50 421.50,283.50 421.90,278.80 424.20,278.80" fill="none" stroke="#3a5a8c" stroke-width="1.5" stroke-linejoin="round" stroke-linecap="round" />
<polyline points="424.20,278.80 425.66,279.02 427.72,279.32 430.13,279.69 432.64,280.12 435.00,280.60 437.20,281.13 439.42,281.72 441.66,282.37 443.92,283.06 446.20,283.80 448.53,284.60 450.91,285.47 453.29,286.38 455.67,287.30 458.00,288.20 460.24,289.09 462.40,289.99 464.56,290.89 466.80,291.76 469.20,292.60 471.80,293.40 474.55,294.17 477.38,294.91 480.22,295.62 483.00,296.30 485.94,296.98 489.07,297.66 492.09,298.29 494.67,298.82 496.50,299.20" fill="none" stroke="#3a5a8c" stroke-width="1.5" stroke-linejoin="round" stroke-linecap="round" />
<line x1="226.30" y1="322.40" x2="233.10" y2="322.40" stroke="#3a5a8c" stroke-width="1.4" />
<text x="235.90" y="324.53" font-size="6.2" text-anchor="start" fill="#231f20" textLength="8.40" lengthAdjust="spacingAndGlyphs" stroke="#231f20" stroke-width="0.12" >WT</text>
<line x1="254.90" y1="322.40" x2="262.30" y2="322.40" stroke="#a8293b" stroke-width="1.4" />
<text x="264.40" y="324.53" font-size="6.2" text-anchor="start" fill="#231f20" textLength="25.40" lengthAdjust="spacingAndGlyphs" stroke="#231f20" stroke-width="0.12" >DGKζ-KO</text>
<text x="16.70" y="347.49" font-size="8.4" text-anchor="start" fill="#231f20" textLength="9.00" lengthAdjust="spacingAndGlyphs" stroke="#231f20" stroke-width="0.12" >(ii)</text>
<line x1="45.60" y1="354.50" x2="45.60" y2="438.70" stroke="#231f20" stroke-width="1.1" />
<line x1="42.60" y1="438.20" x2="45.60" y2="438.20" stroke="#231f20" stroke-width="1.1" />
<text x="39.90" y="440.94" font-size="6.8" text-anchor="end" fill="#231f20" textLength="3.40" lengthAdjust="spacingAndGlyphs" stroke="#231f20" stroke-width="0.12" >0</text>
<line x1="42.60" y1="422.02" x2="45.60" y2="422.02" stroke="#231f20" stroke-width="1.1" />
<text x="39.90" y="424.76" font-size="6.8" text-anchor="end" fill="#231f20" textLength="6.81" lengthAdjust="spacingAndGlyphs" stroke="#231f20" stroke-width="0.12" >20</text>
<line x1="42.60" y1="405.84" x2="45.60" y2="405.84" stroke="#231f20" stroke-width="1.1" />
<text x="39.90" y="408.58" font-size="6.8" text-anchor="end" fill="#231f20" textLength="6.81" lengthAdjust="spacingAndGlyphs" stroke="#231f20" stroke-width="0.12" >40</text>
<line x1="42.60" y1="389.66" x2="45.60" y2="389.66" stroke="#231f20" stroke-width="1.1" />
<text x="39.90" y="392.40" font-size="6.8" text-anchor="end" fill="#231f20" textLength="6.81" lengthAdjust="spacingAndGlyphs" stroke="#231f20" stroke-width="0.12" >60</text>
<line x1="42.60" y1="373.48" x2="45.60" y2="373.48" stroke="#231f20" stroke-width="1.1" />
<text x="39.90" y="376.22" font-size="6.8" text-anchor="end" fill="#231f20" textLength="6.81" lengthAdjust="spacingAndGlyphs" stroke="#231f20" stroke-width="0.12" >80</text>
<line x1="42.60" y1="357.30" x2="45.60" y2="357.30" stroke="#231f20" stroke-width="1.1" />
<text x="39.90" y="360.04" font-size="6.8" text-anchor="end" fill="#231f20" textLength="10.21" lengthAdjust="spacingAndGlyphs" stroke="#231f20" stroke-width="0.12" >100</text>
<line x1="45.10" y1="438.20" x2="167.30" y2="438.20" stroke="#231f20" stroke-width="1.0" />
<line x1="57.70" y1="438.20" x2="57.70" y2="441.20" stroke="#231f20" stroke-width="1.0" />
<line x1="82.10" y1="438.20" x2="82.10" y2="441.20" stroke="#231f20" stroke-width="1.0" />
<line x1="106.50" y1="438.20" x2="106.50" y2="441.20" stroke="#231f20" stroke-width="1.0" />
<line x1="130.90" y1="438.20" x2="130.90" y2="441.20" stroke="#231f20" stroke-width="1.0" />
<line x1="155.30" y1="438.20" x2="155.30" y2="441.20" stroke="#231f20" stroke-width="1.0" />
<text x="57.70" y="450.47" font-size="6.6" text-anchor="middle" fill="#231f20" textLength="3.30" lengthAdjust="spacingAndGlyphs" stroke="#231f20" stroke-width="0.12" >0</text>
<text x="82.10" y="450.47" font-size="6.6" text-anchor="middle" fill="#231f20" textLength="11.56" lengthAdjust="spacingAndGlyphs" stroke="#231f20" stroke-width="0.12" >1.25</text>
<text x="106.50" y="450.47" font-size="6.6" text-anchor="middle" fill="#231f20" textLength="8.26" lengthAdjust="spacingAndGlyphs" stroke="#231f20" stroke-width="0.12" >2.5</text>
<text x="130.90" y="450.47" font-size="6.6" text-anchor="middle" fill="#231f20" textLength="3.30" lengthAdjust="spacingAndGlyphs" stroke="#231f20" stroke-width="0.12" >5</text>
<text x="155.30" y="450.47" font-size="6.6" text-anchor="middle" fill="#231f20" textLength="6.61" lengthAdjust="spacingAndGlyphs" stroke="#231f20" stroke-width="0.12" >10</text>
<text x="106.80" y="462.75" font-size="8.0" text-anchor="middle" fill="#231f20" textLength="45.00" lengthAdjust="spacingAndGlyphs" stroke="#231f20" stroke-width="0.12" >CRP (µg/mL)</text>
<text transform="translate(19.20,396.25) rotate(-90)" x="0" y="2.75" font-size="8.0" text-anchor="middle" fill="#231f20" textLength="59.40" lengthAdjust="spacingAndGlyphs" stroke="#231f20" stroke-width="0.12" >Aggregation (%)</text>
<polyline points="57.70,438.20 82.10,425.26 106.50,385.45 130.90,377.04 155.30,371.05" fill="none" stroke="#3a5a8c" stroke-width="1.3" stroke-linejoin="round" stroke-linecap="round" />
<circle cx="57.70" cy="438.20" r="1.6" fill="#3a5a8c"/>
<line x1="82.10" y1="420.40" x2="82.10" y2="430.11" stroke="#3a5a8c" stroke-width="0.8" />
<line x1="80.40" y1="420.40" x2="83.80" y2="420.40" stroke="#3a5a8c" stroke-width="0.8" />
<line x1="80.40" y1="430.11" x2="83.80" y2="430.11" stroke="#3a5a8c" stroke-width="0.8" />
<circle cx="82.10" cy="425.26" r="1.6" fill="#3a5a8c"/>
<line x1="106.50" y1="383.03" x2="106.50" y2="387.88" stroke="#3a5a8c" stroke-width="0.8" />
<line x1="104.80" y1="383.03" x2="108.20" y2="383.03" stroke="#3a5a8c" stroke-width="0.8" />
<line x1="104.80" y1="387.88" x2="108.20" y2="387.88" stroke="#3a5a8c" stroke-width="0.8" />
<circle cx="106.50" cy="385.45" r="1.6" fill="#3a5a8c"/>
<line x1="130.90" y1="375.83" x2="130.90" y2="378.25" stroke="#3a5a8c" stroke-width="0.8" />
<line x1="129.20" y1="375.83" x2="132.60" y2="375.83" stroke="#3a5a8c" stroke-width="0.8" />
<line x1="129.20" y1="378.25" x2="132.60" y2="378.25" stroke="#3a5a8c" stroke-width="0.8" />
<circle cx="130.90" cy="377.04" r="1.6" fill="#3a5a8c"/>
<line x1="155.30" y1="370.24" x2="155.30" y2="371.86" stroke="#3a5a8c" stroke-width="0.8" />
<line x1="153.60" y1="370.24" x2="157.00" y2="370.24" stroke="#3a5a8c" stroke-width="0.8" />
<line x1="153.60" y1="371.86" x2="157.00" y2="371.86" stroke="#3a5a8c" stroke-width="0.8" />
<circle cx="155.30" cy="371.05" r="1.6" fill="#3a5a8c"/>
<polyline points="57.70,438.20 82.10,386.42 106.50,365.88 130.90,367.17 155.30,364.58" fill="none" stroke="#a8293b" stroke-width="1.3" stroke-linejoin="round" stroke-linecap="round" />
<circle cx="57.70" cy="438.20" r="1.6" fill="#a8293b"/>
<line x1="82.10" y1="377.52" x2="82.10" y2="395.32" stroke="#a8293b" stroke-width="0.8" />
<line x1="80.40" y1="377.52" x2="83.80" y2="377.52" stroke="#a8293b" stroke-width="0.8" />
<line x1="80.40" y1="395.32" x2="83.80" y2="395.32" stroke="#a8293b" stroke-width="0.8" />
<circle cx="82.10" cy="386.42" r="1.6" fill="#a8293b"/>
<line x1="106.50" y1="362.64" x2="106.50" y2="369.11" stroke="#a8293b" stroke-width="0.8" />
<line x1="104.80" y1="362.64" x2="108.20" y2="362.64" stroke="#a8293b" stroke-width="0.8" />
<line x1="104.80" y1="369.11" x2="108.20" y2="369.11" stroke="#a8293b" stroke-width="0.8" />
<circle cx="106.50" cy="365.88" r="1.6" fill="#a8293b"/>
<line x1="130.90" y1="366.36" x2="130.90" y2="367.98" stroke="#a8293b" stroke-width="0.8" />
<line x1="129.20" y1="366.36" x2="132.60" y2="366.36" stroke="#a8293b" stroke-width="0.8" />
<line x1="129.20" y1="367.98" x2="132.60" y2="367.98" stroke="#a8293b" stroke-width="0.8" />
<circle cx="130.90" cy="367.17" r="1.6" fill="#a8293b"/>
<line x1="155.30" y1="363.77" x2="155.30" y2="365.39" stroke="#a8293b" stroke-width="0.8" />
<line x1="153.60" y1="363.77" x2="157.00" y2="363.77" stroke="#a8293b" stroke-width="0.8" />
<line x1="153.60" y1="365.39" x2="157.00" y2="365.39" stroke="#a8293b" stroke-width="0.8" />
<circle cx="155.30" cy="364.58" r="1.6" fill="#a8293b"/>
<text x="82.10" y="376.93" font-size="6.2" text-anchor="middle" fill="#231f20" textLength="7.80" lengthAdjust="spacingAndGlyphs" stroke="#231f20" stroke-width="0.12" >***</text>
<text x="106.50" y="361.73" font-size="6.2" text-anchor="middle" fill="#231f20" textLength="2.60" lengthAdjust="spacingAndGlyphs" stroke="#231f20" stroke-width="0.12" >*</text>
<text x="130.90" y="365.53" font-size="6.2" text-anchor="middle" fill="#231f20" textLength="7.80" lengthAdjust="spacingAndGlyphs" stroke="#231f20" stroke-width="0.12" >***</text>
<text x="155.30" y="364.23" font-size="6.2" text-anchor="middle" fill="#231f20" textLength="7.80" lengthAdjust="spacingAndGlyphs" stroke="#231f20" stroke-width="0.12" >***</text>
<line x1="226.50" y1="355.10" x2="226.50" y2="439.00" stroke="#231f20" stroke-width="1.1" />
<line x1="223.50" y1="438.50" x2="226.50" y2="438.50" stroke="#231f20" stroke-width="1.1" />
<text x="220.80" y="441.24" font-size="6.8" text-anchor="end" fill="#231f20" textLength="3.40" lengthAdjust="spacingAndGlyphs" stroke="#231f20" stroke-width="0.12" >0</text>
<line x1="223.50" y1="422.38" x2="226.50" y2="422.38" stroke="#231f20" stroke-width="1.1" />
<text x="220.80" y="425.12" font-size="6.8" text-anchor="end" fill="#231f20" textLength="6.81" lengthAdjust="spacingAndGlyphs" stroke="#231f20" stroke-width="0.12" >20</text>
<line x1="223.50" y1="406.26" x2="226.50" y2="406.26" stroke="#231f20" stroke-width="1.1" />
<text x="220.80" y="409.00" font-size="6.8" text-anchor="end" fill="#231f20" textLength="6.81" lengthAdjust="spacingAndGlyphs" stroke="#231f20" stroke-width="0.12" >40</text>
<line x1="223.50" y1="390.14" x2="226.50" y2="390.14" stroke="#231f20" stroke-width="1.1" />
<text x="220.80" y="392.88" font-size="6.8" text-anchor="end" fill="#231f20" textLength="6.81" lengthAdjust="spacingAndGlyphs" stroke="#231f20" stroke-width="0.12" >60</text>
<line x1="223.50" y1="374.02" x2="226.50" y2="374.02" stroke="#231f20" stroke-width="1.1" />
<text x="220.80" y="376.76" font-size="6.8" text-anchor="end" fill="#231f20" textLength="6.81" lengthAdjust="spacingAndGlyphs" stroke="#231f20" stroke-width="0.12" >80</text>
<line x1="223.50" y1="357.90" x2="226.50" y2="357.90" stroke="#231f20" stroke-width="1.1" />
<text x="220.80" y="360.64" font-size="6.8" text-anchor="end" fill="#231f20" textLength="10.21" lengthAdjust="spacingAndGlyphs" stroke="#231f20" stroke-width="0.12" >100</text>
<line x1="226.00" y1="438.50" x2="347.40" y2="438.50" stroke="#231f20" stroke-width="1.0" />
<line x1="238.70" y1="438.50" x2="238.70" y2="441.50" stroke="#231f20" stroke-width="1.0" />
<line x1="262.70" y1="438.50" x2="262.70" y2="441.50" stroke="#231f20" stroke-width="1.0" />
<line x1="287.10" y1="438.50" x2="287.10" y2="441.50" stroke="#231f20" stroke-width="1.0" />
<line x1="311.40" y1="438.50" x2="311.40" y2="441.50" stroke="#231f20" stroke-width="1.0" />
<line x1="335.90" y1="438.50" x2="335.90" y2="441.50" stroke="#231f20" stroke-width="1.0" />
<text x="238.70" y="450.47" font-size="6.6" text-anchor="middle" fill="#231f20" textLength="3.30" lengthAdjust="spacingAndGlyphs" stroke="#231f20" stroke-width="0.12" >0</text>
<text x="262.70" y="450.47" font-size="6.6" text-anchor="middle" fill="#231f20" textLength="8.26" lengthAdjust="spacingAndGlyphs" stroke="#231f20" stroke-width="0.12" >2.5</text>
<text x="287.10" y="450.47" font-size="6.6" text-anchor="middle" fill="#231f20" textLength="3.30" lengthAdjust="spacingAndGlyphs" stroke="#231f20" stroke-width="0.12" >5</text>
<text x="311.40" y="450.47" font-size="6.6" text-anchor="middle" fill="#231f20" textLength="6.61" lengthAdjust="spacingAndGlyphs" stroke="#231f20" stroke-width="0.12" >10</text>
<text x="335.90" y="450.47" font-size="6.6" text-anchor="middle" fill="#231f20" textLength="6.61" lengthAdjust="spacingAndGlyphs" stroke="#231f20" stroke-width="0.12" >20</text>
<text x="287.90" y="462.75" font-size="8.0" text-anchor="middle" fill="#231f20" textLength="63.50" lengthAdjust="spacingAndGlyphs" stroke="#231f20" stroke-width="0.12" >Collagen (µg/mL)</text>
<text transform="translate(199.90,396.70) rotate(-90)" x="0" y="2.75" font-size="8.0" text-anchor="middle" fill="#231f20" textLength="59.40" lengthAdjust="spacingAndGlyphs" stroke="#231f20" stroke-width="0.12" >Aggregation (%)</text>
<polyline points="238.70,438.50 262.70,415.93 287.10,397.39 311.40,378.86 335.90,371.60" fill="none" stroke="#3a5a8c" stroke-width="1.3" stroke-linejoin="round" stroke-linecap="round" />
<circle cx="238.70" cy="438.50" r="1.6" fill="#3a5a8c"/>
<line x1="262.70" y1="411.10" x2="262.70" y2="420.77" stroke="#3a5a8c" stroke-width="0.8" />
<line x1="261.00" y1="411.10" x2="264.40" y2="411.10" stroke="#3a5a8c" stroke-width="0.8" />
<line x1="261.00" y1="420.77" x2="264.40" y2="420.77" stroke="#3a5a8c" stroke-width="0.8" />
<circle cx="262.70" cy="415.93" r="1.6" fill="#3a5a8c"/>
<line x1="287.10" y1="396.19" x2="287.10" y2="398.60" stroke="#3a5a8c" stroke-width="0.8" />
<line x1="285.40" y1="396.19" x2="288.80" y2="396.19" stroke="#3a5a8c" stroke-width="0.8" />
<line x1="285.40" y1="398.60" x2="288.80" y2="398.60" stroke="#3a5a8c" stroke-width="0.8" />
<circle cx="287.10" cy="397.39" r="1.6" fill="#3a5a8c"/>
<line x1="311.40" y1="375.63" x2="311.40" y2="382.08" stroke="#3a5a8c" stroke-width="0.8" />
<line x1="309.70" y1="375.63" x2="313.10" y2="375.63" stroke="#3a5a8c" stroke-width="0.8" />
<line x1="309.70" y1="382.08" x2="313.10" y2="382.08" stroke="#3a5a8c" stroke-width="0.8" />
<circle cx="311.40" cy="378.86" r="1.6" fill="#3a5a8c"/>
<line x1="335.90" y1="370.39" x2="335.90" y2="372.81" stroke="#3a5a8c" stroke-width="0.8" />
<line x1="334.20" y1="370.39" x2="337.60" y2="370.39" stroke="#3a5a8c" stroke-width="0.8" />
<line x1="334.20" y1="372.81" x2="337.60" y2="372.81" stroke="#3a5a8c" stroke-width="0.8" />
<circle cx="335.90" cy="371.60" r="1.6" fill="#3a5a8c"/>
<polyline points="238.70,438.50 262.70,390.95 287.10,387.72 311.40,377.24 335.90,367.57" fill="none" stroke="#a8293b" stroke-width="1.3" stroke-linejoin="round" stroke-linecap="round" />
<circle cx="238.70" cy="438.50" r="1.6" fill="#a8293b"/>
<line x1="262.70" y1="387.72" x2="262.70" y2="394.17" stroke="#a8293b" stroke-width="0.8" />
<line x1="261.00" y1="387.72" x2="264.40" y2="387.72" stroke="#a8293b" stroke-width="0.8" />
<line x1="261.00" y1="394.17" x2="264.40" y2="394.17" stroke="#a8293b" stroke-width="0.8" />
<circle cx="262.70" cy="390.95" r="1.6" fill="#a8293b"/>
<line x1="287.10" y1="384.50" x2="287.10" y2="390.95" stroke="#a8293b" stroke-width="0.8" />
<line x1="285.40" y1="384.50" x2="288.80" y2="384.50" stroke="#a8293b" stroke-width="0.8" />
<line x1="285.40" y1="390.95" x2="288.80" y2="390.95" stroke="#a8293b" stroke-width="0.8" />
<circle cx="287.10" cy="387.72" r="1.6" fill="#a8293b"/>
<line x1="311.40" y1="372.41" x2="311.40" y2="382.08" stroke="#a8293b" stroke-width="0.8" />
<line x1="309.70" y1="372.41" x2="313.10" y2="372.41" stroke="#a8293b" stroke-width="0.8" />
<line x1="309.70" y1="382.08" x2="313.10" y2="382.08" stroke="#a8293b" stroke-width="0.8" />
<circle cx="311.40" cy="377.24" r="1.6" fill="#a8293b"/>
<line x1="335.90" y1="364.35" x2="335.90" y2="370.80" stroke="#a8293b" stroke-width="0.8" />
<line x1="334.20" y1="364.35" x2="337.60" y2="364.35" stroke="#a8293b" stroke-width="0.8" />
<line x1="334.20" y1="370.80" x2="337.60" y2="370.80" stroke="#a8293b" stroke-width="0.8" />
<circle cx="335.90" cy="367.57" r="1.6" fill="#a8293b"/>
<text x="262.70" y="386.73" font-size="6.2" text-anchor="middle" fill="#231f20" textLength="5.20" lengthAdjust="spacingAndGlyphs" stroke="#231f20" stroke-width="0.12" >**</text>
<text x="287.10" y="384.13" font-size="6.2" text-anchor="middle" fill="#231f20" textLength="2.60" lengthAdjust="spacingAndGlyphs" stroke="#231f20" stroke-width="0.12" >*</text>
<line x1="399.40" y1="355.30" x2="399.40" y2="439.30" stroke="#231f20" stroke-width="1.1" />
<line x1="396.40" y1="438.80" x2="399.40" y2="438.80" stroke="#231f20" stroke-width="1.1" />
<text x="393.70" y="441.54" font-size="6.8" text-anchor="end" fill="#231f20" textLength="3.40" lengthAdjust="spacingAndGlyphs" stroke="#231f20" stroke-width="0.12" >0</text>
<line x1="396.40" y1="422.66" x2="399.40" y2="422.66" stroke="#231f20" stroke-width="1.1" />
<text x="393.70" y="425.40" font-size="6.8" text-anchor="end" fill="#231f20" textLength="6.81" lengthAdjust="spacingAndGlyphs" stroke="#231f20" stroke-width="0.12" >20</text>
<line x1="396.40" y1="406.52" x2="399.40" y2="406.52" stroke="#231f20" stroke-width="1.1" />
<text x="393.70" y="409.26" font-size="6.8" text-anchor="end" fill="#231f20" textLength="6.81" lengthAdjust="spacingAndGlyphs" stroke="#231f20" stroke-width="0.12" >40</text>
<line x1="396.40" y1="390.38" x2="399.40" y2="390.38" stroke="#231f20" stroke-width="1.1" />
<text x="393.70" y="393.12" font-size="6.8" text-anchor="end" fill="#231f20" textLength="6.81" lengthAdjust="spacingAndGlyphs" stroke="#231f20" stroke-width="0.12" >60</text>
<line x1="396.40" y1="374.24" x2="399.40" y2="374.24" stroke="#231f20" stroke-width="1.1" />
<text x="393.70" y="376.98" font-size="6.8" text-anchor="end" fill="#231f20" textLength="6.81" lengthAdjust="spacingAndGlyphs" stroke="#231f20" stroke-width="0.12" >80</text>
<line x1="396.40" y1="358.10" x2="399.40" y2="358.10" stroke="#231f20" stroke-width="1.1" />
<text x="393.70" y="360.84" font-size="6.8" text-anchor="end" fill="#231f20" textLength="10.21" lengthAdjust="spacingAndGlyphs" stroke="#231f20" stroke-width="0.12" >100</text>
<line x1="398.90" y1="438.80" x2="512.90" y2="438.80" stroke="#231f20" stroke-width="1.0" />
<line x1="411.90" y1="438.80" x2="411.90" y2="441.80" stroke="#231f20" stroke-width="1.0" />
<line x1="436.30" y1="438.80" x2="436.30" y2="441.80" stroke="#231f20" stroke-width="1.0" />
<line x1="460.40" y1="438.80" x2="460.40" y2="441.80" stroke="#231f20" stroke-width="1.0" />
<line x1="484.80" y1="438.80" x2="484.80" y2="441.80" stroke="#231f20" stroke-width="1.0" />
<line x1="508.80" y1="438.80" x2="508.80" y2="441.80" stroke="#231f20" stroke-width="1.0" />
<text x="411.90" y="450.47" font-size="6.6" text-anchor="middle" fill="#231f20" textLength="3.30" lengthAdjust="spacingAndGlyphs" stroke="#231f20" stroke-width="0.12" >0</text>
<text x="436.30" y="450.47" font-size="6.6" text-anchor="middle" fill="#231f20" textLength="14.86" lengthAdjust="spacingAndGlyphs" stroke="#231f20" stroke-width="0.12" >0.125</text>
<text x="460.40" y="450.47" font-size="6.6" text-anchor="middle" fill="#231f20" textLength="11.56" lengthAdjust="spacingAndGlyphs" stroke="#231f20" stroke-width="0.12" >0.25</text>
<text x="484.80" y="450.47" font-size="6.6" text-anchor="middle" fill="#231f20" textLength="8.26" lengthAdjust="spacingAndGlyphs" stroke="#231f20" stroke-width="0.12" >0.5</text>
<text x="508.80" y="450.47" font-size="6.6" text-anchor="middle" fill="#231f20" textLength="3.30" lengthAdjust="spacingAndGlyphs" stroke="#231f20" stroke-width="0.12" >1</text>
<text x="460.50" y="462.75" font-size="8.0" text-anchor="middle" fill="#231f20" textLength="61.90" lengthAdjust="spacingAndGlyphs" stroke="#231f20" stroke-width="0.12" >Thrombin (U/mL)</text>
<text transform="translate(373.00,396.95) rotate(-90)" x="0" y="2.75" font-size="8.0" text-anchor="middle" fill="#231f20" textLength="59.40" lengthAdjust="spacingAndGlyphs" stroke="#231f20" stroke-width="0.12" >Aggregation (%)</text>
<polyline points="411.90,438.80 436.30,414.59 460.40,382.31 484.80,372.63 508.80,372.63" fill="none" stroke="#3a5a8c" stroke-width="1.3" stroke-linejoin="round" stroke-linecap="round" />
<circle cx="411.90" cy="438.80" r="1.6" fill="#3a5a8c"/>
<line x1="436.30" y1="411.36" x2="436.30" y2="417.82" stroke="#3a5a8c" stroke-width="0.8" />
<line x1="434.60" y1="411.36" x2="438.00" y2="411.36" stroke="#3a5a8c" stroke-width="0.8" />
<line x1="434.60" y1="417.82" x2="438.00" y2="417.82" stroke="#3a5a8c" stroke-width="0.8" />
<circle cx="436.30" cy="414.59" r="1.6" fill="#3a5a8c"/>
<line x1="460.40" y1="377.47" x2="460.40" y2="387.15" stroke="#3a5a8c" stroke-width="0.8" />
<line x1="458.70" y1="377.47" x2="462.10" y2="377.47" stroke="#3a5a8c" stroke-width="0.8" />
<line x1="458.70" y1="387.15" x2="462.10" y2="387.15" stroke="#3a5a8c" stroke-width="0.8" />
<circle cx="460.40" cy="382.31" r="1.6" fill="#3a5a8c"/>
<line x1="484.80" y1="370.21" x2="484.80" y2="375.05" stroke="#3a5a8c" stroke-width="0.8" />
<line x1="483.10" y1="370.21" x2="486.50" y2="370.21" stroke="#3a5a8c" stroke-width="0.8" />
<line x1="483.10" y1="375.05" x2="486.50" y2="375.05" stroke="#3a5a8c" stroke-width="0.8" />
<circle cx="484.80" cy="372.63" r="1.6" fill="#3a5a8c"/>
<line x1="508.80" y1="369.40" x2="508.80" y2="375.85" stroke="#3a5a8c" stroke-width="0.8" />
<line x1="507.10" y1="369.40" x2="510.50" y2="369.40" stroke="#3a5a8c" stroke-width="0.8" />
<line x1="507.10" y1="375.85" x2="510.50" y2="375.85" stroke="#3a5a8c" stroke-width="0.8" />
<circle cx="508.80" cy="372.63" r="1.6" fill="#3a5a8c"/>
<polyline points="411.90,438.80 436.30,426.29 460.40,414.59 484.80,378.68 508.80,371.82" fill="none" stroke="#a8293b" stroke-width="1.3" stroke-linejoin="round" stroke-linecap="round" />
<circle cx="411.90" cy="438.80" r="1.6" fill="#a8293b"/>
<line x1="436.30" y1="423.87" x2="436.30" y2="428.71" stroke="#a8293b" stroke-width="0.8" />
<line x1="434.60" y1="423.87" x2="438.00" y2="423.87" stroke="#a8293b" stroke-width="0.8" />
<line x1="434.60" y1="428.71" x2="438.00" y2="428.71" stroke="#a8293b" stroke-width="0.8" />
<circle cx="436.30" cy="426.29" r="1.6" fill="#a8293b"/>
<line x1="460.40" y1="408.13" x2="460.40" y2="421.05" stroke="#a8293b" stroke-width="0.8" />
<line x1="458.70" y1="408.13" x2="462.10" y2="408.13" stroke="#a8293b" stroke-width="0.8" />
<line x1="458.70" y1="421.05" x2="462.10" y2="421.05" stroke="#a8293b" stroke-width="0.8" />
<circle cx="460.40" cy="414.59" r="1.6" fill="#a8293b"/>
<line x1="484.80" y1="377.06" x2="484.80" y2="380.29" stroke="#a8293b" stroke-width="0.8" />
<line x1="483.10" y1="377.06" x2="486.50" y2="377.06" stroke="#a8293b" stroke-width="0.8" />
<line x1="483.10" y1="380.29" x2="486.50" y2="380.29" stroke="#a8293b" stroke-width="0.8" />
<circle cx="484.80" cy="378.68" r="1.6" fill="#a8293b"/>
<line x1="508.80" y1="368.59" x2="508.80" y2="375.05" stroke="#a8293b" stroke-width="0.8" />
<line x1="507.10" y1="368.59" x2="510.50" y2="368.59" stroke="#a8293b" stroke-width="0.8" />
<line x1="507.10" y1="375.05" x2="510.50" y2="375.05" stroke="#a8293b" stroke-width="0.8" />
<circle cx="508.80" cy="371.82" r="1.6" fill="#a8293b"/>
<text x="436.30" y="437.03" font-size="6.2" text-anchor="middle" fill="#231f20" textLength="2.60" lengthAdjust="spacingAndGlyphs" stroke="#231f20" stroke-width="0.12" >*</text>
<text x="460.40" y="431.33" font-size="6.2" text-anchor="middle" fill="#231f20" textLength="5.20" lengthAdjust="spacingAndGlyphs" stroke="#231f20" stroke-width="0.12" >**</text>
<line x1="45.80" y1="510.40" x2="45.80" y2="612.50" stroke="#231f20" stroke-width="1.1" />
<line x1="42.80" y1="612.00" x2="45.80" y2="612.00" stroke="#231f20" stroke-width="1.1" />
<text x="40.10" y="614.74" font-size="6.8" text-anchor="end" fill="#231f20" textLength="3.40" lengthAdjust="spacingAndGlyphs" stroke="#231f20" stroke-width="0.12" >0</text>
<line x1="42.80" y1="592.22" x2="45.80" y2="592.22" stroke="#231f20" stroke-width="1.1" />
<text x="40.10" y="594.96" font-size="6.8" text-anchor="end" fill="#231f20" textLength="13.61" lengthAdjust="spacingAndGlyphs" stroke="#231f20" stroke-width="0.12" >1000</text>
<line x1="42.80" y1="572.44" x2="45.80" y2="572.44" stroke="#231f20" stroke-width="1.1" />
<text x="40.10" y="575.18" font-size="6.8" text-anchor="end" fill="#231f20" textLength="13.61" lengthAdjust="spacingAndGlyphs" stroke="#231f20" stroke-width="0.12" >2000</text>
<line x1="42.80" y1="552.66" x2="45.80" y2="552.66" stroke="#231f20" stroke-width="1.1" />
<text x="40.10" y="555.40" font-size="6.8" text-anchor="end" fill="#231f20" textLength="13.61" lengthAdjust="spacingAndGlyphs" stroke="#231f20" stroke-width="0.12" >3000</text>
<line x1="42.80" y1="532.88" x2="45.80" y2="532.88" stroke="#231f20" stroke-width="1.1" />
<text x="40.10" y="535.62" font-size="6.8" text-anchor="end" fill="#231f20" textLength="13.61" lengthAdjust="spacingAndGlyphs" stroke="#231f20" stroke-width="0.12" >4000</text>
<line x1="42.80" y1="513.10" x2="45.80" y2="513.10" stroke="#231f20" stroke-width="1.1" />
<text x="40.10" y="515.84" font-size="6.8" text-anchor="end" fill="#231f20" textLength="13.61" lengthAdjust="spacingAndGlyphs" stroke="#231f20" stroke-width="0.12" >5000</text>
<rect x="50.35" y="605.67" width="7.20" height="6.33" fill="#4a6184" stroke="#354a6a" stroke-width="0.5" />
<rect x="60.75" y="605.08" width="7.20" height="6.92" fill="#a13646" stroke="#862636" stroke-width="0.5" />
<line x1="53.95" y1="605.27" x2="53.95" y2="605.67" stroke="#231f20" stroke-width="0.9" />
<line x1="51.75" y1="605.27" x2="56.15" y2="605.27" stroke="#231f20" stroke-width="0.9" />
<line x1="64.35" y1="604.68" x2="64.35" y2="605.08" stroke="#231f20" stroke-width="0.9" />
<line x1="62.15" y1="604.68" x2="66.55" y2="604.68" stroke="#231f20" stroke-width="0.9" />
<rect x="77.70" y="579.17" width="7.20" height="32.83" fill="#4a6184" stroke="#354a6a" stroke-width="0.5" />
<rect x="88.10" y="542.37" width="7.20" height="69.63" fill="#a13646" stroke="#862636" stroke-width="0.5" />
<line x1="81.30" y1="573.82" x2="81.30" y2="579.17" stroke="#231f20" stroke-width="0.9" />
<line x1="79.10" y1="573.82" x2="83.50" y2="573.82" stroke="#231f20" stroke-width="0.9" />
<line x1="91.70" y1="536.44" x2="91.70" y2="542.37" stroke="#231f20" stroke-width="0.9" />
<line x1="89.50" y1="536.44" x2="93.90" y2="536.44" stroke="#231f20" stroke-width="0.9" />
<rect x="104.95" y="535.25" width="7.20" height="76.75" fill="#4a6184" stroke="#354a6a" stroke-width="0.5" />
<rect x="115.35" y="557.21" width="7.20" height="54.79" fill="#a13646" stroke="#862636" stroke-width="0.5" />
<line x1="108.55" y1="530.51" x2="108.55" y2="535.25" stroke="#231f20" stroke-width="0.9" />
<line x1="106.35" y1="530.51" x2="110.75" y2="530.51" stroke="#231f20" stroke-width="0.9" />
<line x1="118.95" y1="551.67" x2="118.95" y2="557.21" stroke="#231f20" stroke-width="0.9" />
<line x1="116.75" y1="551.67" x2="121.15" y2="551.67" stroke="#231f20" stroke-width="0.9" />
<rect x="132.00" y="604.29" width="7.20" height="7.71" fill="#4a6184" stroke="#354a6a" stroke-width="0.5" />
<rect x="142.40" y="603.10" width="7.20" height="8.90" fill="#a13646" stroke="#862636" stroke-width="0.5" />
<line x1="135.60" y1="603.69" x2="135.60" y2="604.29" stroke="#231f20" stroke-width="0.9" />
<line x1="133.40" y1="603.69" x2="137.80" y2="603.69" stroke="#231f20" stroke-width="0.9" />
<line x1="146.00" y1="602.70" x2="146.00" y2="603.10" stroke="#231f20" stroke-width="0.9" />
<line x1="143.80" y1="602.70" x2="148.20" y2="602.70" stroke="#231f20" stroke-width="0.9" />
<rect x="159.40" y="603.69" width="7.20" height="8.31" fill="#4a6184" stroke="#354a6a" stroke-width="0.5" />
<rect x="169.80" y="602.31" width="7.20" height="9.69" fill="#a13646" stroke="#862636" stroke-width="0.5" />
<line x1="163.00" y1="603.30" x2="163.00" y2="603.69" stroke="#231f20" stroke-width="0.9" />
<line x1="160.80" y1="603.30" x2="165.20" y2="603.30" stroke="#231f20" stroke-width="0.9" />
<line x1="173.40" y1="600.73" x2="173.40" y2="602.31" stroke="#231f20" stroke-width="0.9" />
<line x1="171.20" y1="600.73" x2="175.60" y2="600.73" stroke="#231f20" stroke-width="0.9" />
<line x1="45.30" y1="612.00" x2="178.50" y2="612.00" stroke="#231f20" stroke-width="1.0" />
<line x1="59.15" y1="612.00" x2="59.15" y2="615.00" stroke="#231f20" stroke-width="1.0" />
<line x1="86.50" y1="612.00" x2="86.50" y2="615.00" stroke="#231f20" stroke-width="1.0" />
<line x1="113.75" y1="612.00" x2="113.75" y2="615.00" stroke="#231f20" stroke-width="1.0" />
<line x1="140.80" y1="612.00" x2="140.80" y2="615.00" stroke="#231f20" stroke-width="1.0" />
<line x1="168.20" y1="612.00" x2="168.20" y2="615.00" stroke="#231f20" stroke-width="1.0" />
<text x="91.85" y="535.43" font-size="6.2" text-anchor="middle" fill="#231f20" textLength="5.20" lengthAdjust="spacingAndGlyphs" stroke="#231f20" stroke-width="0.12" >**</text>
<text x="118.95" y="550.63" font-size="6.2" text-anchor="middle" fill="#231f20" textLength="2.60" lengthAdjust="spacingAndGlyphs" stroke="#231f20" stroke-width="0.12" >*</text>
<text x="112.50" y="504.52" font-size="8.2" text-anchor="middle" fill="#231f20" textLength="35.10" lengthAdjust="spacingAndGlyphs" stroke="#231f20" stroke-width="0.12" >P-selectin</text>
<text transform="translate(16.40,562.55) rotate(-90)" x="0" y="2.75" font-size="8.0" text-anchor="middle" fill="#231f20" textLength="55.00" lengthAdjust="spacingAndGlyphs" stroke="#231f20" stroke-width="0.12" >P-selectin (MFI)</text>
<text x="59.15" y="625.70" font-size="6.4" text-anchor="middle" fill="#231f20" textLength="3.20" lengthAdjust="spacingAndGlyphs" stroke="#231f20" stroke-width="0.12" >0</text>
<text x="86.50" y="625.70" font-size="6.4" text-anchor="middle" fill="#231f20" textLength="3.20" lengthAdjust="spacingAndGlyphs" stroke="#231f20" stroke-width="0.12" >5</text>
<text x="86.50" y="633.40" font-size="6.4" text-anchor="middle" fill="#231f20" textLength="12.16" lengthAdjust="spacingAndGlyphs" stroke="#231f20" stroke-width="0.12" >CRP</text>
<text x="86.50" y="641.00" font-size="6.4" text-anchor="middle" fill="#231f20" textLength="20.40" lengthAdjust="spacingAndGlyphs" stroke="#231f20" stroke-width="0.12" >(µg/mL)</text>
<text x="113.75" y="625.70" font-size="6.4" text-anchor="middle" fill="#231f20" textLength="11.21" lengthAdjust="spacingAndGlyphs" stroke="#231f20" stroke-width="0.12" >0.12</text>
<text x="113.75" y="633.40" font-size="6.4" text-anchor="middle" fill="#231f20" textLength="8.64" lengthAdjust="spacingAndGlyphs" stroke="#231f20" stroke-width="0.12" >Thr</text>
<text x="113.75" y="641.00" font-size="6.4" text-anchor="middle" fill="#231f20" textLength="17.99" lengthAdjust="spacingAndGlyphs" stroke="#231f20" stroke-width="0.12" >(U/mL)</text>
<text x="140.80" y="625.70" font-size="6.4" text-anchor="middle" fill="#231f20" textLength="6.41" lengthAdjust="spacingAndGlyphs" stroke="#231f20" stroke-width="0.12" >10</text>
<text x="140.80" y="633.40" font-size="6.4" text-anchor="middle" fill="#231f20" textLength="11.84" lengthAdjust="spacingAndGlyphs" stroke="#231f20" stroke-width="0.12" >ADP</text>
<text x="140.80" y="641.00" font-size="6.4" text-anchor="middle" fill="#231f20" textLength="12.22" lengthAdjust="spacingAndGlyphs" stroke="#231f20" stroke-width="0.12" >(µM)</text>
<text x="168.20" y="625.70" font-size="6.4" text-anchor="middle" fill="#231f20" textLength="3.20" lengthAdjust="spacingAndGlyphs" stroke="#231f20" stroke-width="0.12" >1</text>
<text x="168.20" y="633.40" font-size="6.4" text-anchor="middle" fill="#231f20" textLength="10.57" lengthAdjust="spacingAndGlyphs" stroke="#231f20" stroke-width="0.12" >U46</text>
<text x="168.20" y="641.00" font-size="6.4" text-anchor="middle" fill="#231f20" textLength="12.22" lengthAdjust="spacingAndGlyphs" stroke="#231f20" stroke-width="0.12" >(µM)</text>
<text x="39.40" y="633.47" font-size="6.6" text-anchor="end" fill="#231f20" textLength="25.00" lengthAdjust="spacingAndGlyphs" stroke="#231f20" stroke-width="0.12" >[Agonist]</text>
<line x1="226.50" y1="510.30" x2="226.50" y2="612.50" stroke="#231f20" stroke-width="1.1" />
<line x1="223.50" y1="612.00" x2="226.50" y2="612.00" stroke="#231f20" stroke-width="1.1" />
<text x="220.80" y="614.74" font-size="6.8" text-anchor="end" fill="#231f20" textLength="3.40" lengthAdjust="spacingAndGlyphs" stroke="#231f20" stroke-width="0.12" >0</text>
<line x1="223.50" y1="587.25" x2="226.50" y2="587.25" stroke="#231f20" stroke-width="1.1" />
<text x="220.80" y="589.99" font-size="6.8" text-anchor="end" fill="#231f20" textLength="13.61" lengthAdjust="spacingAndGlyphs" stroke="#231f20" stroke-width="0.12" >2000</text>
<line x1="223.50" y1="562.50" x2="226.50" y2="562.50" stroke="#231f20" stroke-width="1.1" />
<text x="220.80" y="565.24" font-size="6.8" text-anchor="end" fill="#231f20" textLength="13.61" lengthAdjust="spacingAndGlyphs" stroke="#231f20" stroke-width="0.12" >4000</text>
<line x1="223.50" y1="537.75" x2="226.50" y2="537.75" stroke="#231f20" stroke-width="1.1" />
<text x="220.80" y="540.49" font-size="6.8" text-anchor="end" fill="#231f20" textLength="13.61" lengthAdjust="spacingAndGlyphs" stroke="#231f20" stroke-width="0.12" >6000</text>
<line x1="223.50" y1="513.00" x2="226.50" y2="513.00" stroke="#231f20" stroke-width="1.1" />
<text x="220.80" y="515.74" font-size="6.8" text-anchor="end" fill="#231f20" textLength="13.61" lengthAdjust="spacingAndGlyphs" stroke="#231f20" stroke-width="0.12" >8000</text>
<rect x="231.25" y="606.06" width="7.20" height="5.94" fill="#4a6184" stroke="#354a6a" stroke-width="0.5" />
<rect x="241.65" y="605.81" width="7.20" height="6.19" fill="#a13646" stroke="#862636" stroke-width="0.5" />
<line x1="234.85" y1="605.57" x2="234.85" y2="606.06" stroke="#231f20" stroke-width="0.9" />
<line x1="232.65" y1="605.57" x2="237.05" y2="605.57" stroke="#231f20" stroke-width="0.9" />
<line x1="245.25" y1="605.44" x2="245.25" y2="605.81" stroke="#231f20" stroke-width="0.9" />
<line x1="243.05" y1="605.44" x2="247.45" y2="605.44" stroke="#231f20" stroke-width="0.9" />
<rect x="257.70" y="572.65" width="7.20" height="39.35" fill="#4a6184" stroke="#354a6a" stroke-width="0.5" />
<rect x="268.10" y="552.60" width="7.20" height="59.40" fill="#a13646" stroke="#862636" stroke-width="0.5" />
<line x1="261.30" y1="567.08" x2="261.30" y2="572.65" stroke="#231f20" stroke-width="0.9" />
<line x1="259.10" y1="567.08" x2="263.50" y2="567.08" stroke="#231f20" stroke-width="0.9" />
<line x1="271.70" y1="547.90" x2="271.70" y2="552.60" stroke="#231f20" stroke-width="0.9" />
<line x1="269.50" y1="547.90" x2="273.90" y2="547.90" stroke="#231f20" stroke-width="0.9" />
<rect x="283.95" y="541.71" width="7.20" height="70.29" fill="#4a6184" stroke="#354a6a" stroke-width="0.5" />
<rect x="294.35" y="555.57" width="7.20" height="56.43" fill="#a13646" stroke="#862636" stroke-width="0.5" />
<line x1="287.55" y1="537.75" x2="287.55" y2="541.71" stroke="#231f20" stroke-width="0.9" />
<line x1="285.35" y1="537.75" x2="289.75" y2="537.75" stroke="#231f20" stroke-width="0.9" />
<line x1="297.95" y1="553.47" x2="297.95" y2="555.57" stroke="#231f20" stroke-width="0.9" />
<line x1="295.75" y1="553.47" x2="300.15" y2="553.47" stroke="#231f20" stroke-width="0.9" />
<rect x="310.35" y="589.11" width="7.20" height="22.89" fill="#4a6184" stroke="#354a6a" stroke-width="0.5" />
<rect x="320.75" y="592.32" width="7.20" height="19.68" fill="#a13646" stroke="#862636" stroke-width="0.5" />
<line x1="313.95" y1="586.51" x2="313.95" y2="589.11" stroke="#231f20" stroke-width="0.9" />
<line x1="311.75" y1="586.51" x2="316.15" y2="586.51" stroke="#231f20" stroke-width="0.9" />
<line x1="324.35" y1="590.47" x2="324.35" y2="592.32" stroke="#231f20" stroke-width="0.9" />
<line x1="322.15" y1="590.47" x2="326.55" y2="590.47" stroke="#231f20" stroke-width="0.9" />
<rect x="336.80" y="595.05" width="7.20" height="16.95" fill="#4a6184" stroke="#354a6a" stroke-width="0.5" />
<rect x="347.20" y="596.53" width="7.20" height="15.47" fill="#a13646" stroke="#862636" stroke-width="0.5" />
<line x1="340.40" y1="593.81" x2="340.40" y2="595.05" stroke="#231f20" stroke-width="0.9" />
<line x1="338.20" y1="593.81" x2="342.60" y2="593.81" stroke="#231f20" stroke-width="0.9" />
<line x1="350.80" y1="593.93" x2="350.80" y2="596.53" stroke="#231f20" stroke-width="0.9" />
<line x1="348.60" y1="593.93" x2="353.00" y2="593.93" stroke="#231f20" stroke-width="0.9" />
<line x1="226.00" y1="612.00" x2="355.90" y2="612.00" stroke="#231f20" stroke-width="1.0" />
<line x1="240.05" y1="612.00" x2="240.05" y2="615.00" stroke="#231f20" stroke-width="1.0" />
<line x1="266.50" y1="612.00" x2="266.50" y2="615.00" stroke="#231f20" stroke-width="1.0" />
<line x1="292.75" y1="612.00" x2="292.75" y2="615.00" stroke="#231f20" stroke-width="1.0" />
<line x1="319.15" y1="612.00" x2="319.15" y2="615.00" stroke="#231f20" stroke-width="1.0" />
<line x1="345.60" y1="612.00" x2="345.60" y2="615.00" stroke="#231f20" stroke-width="1.0" />
<text x="271.60" y="547.93" font-size="6.2" text-anchor="middle" fill="#231f20" textLength="2.60" lengthAdjust="spacingAndGlyphs" stroke="#231f20" stroke-width="0.12" >*</text>
<text x="297.75" y="553.73" font-size="6.2" text-anchor="middle" fill="#231f20" textLength="2.60" lengthAdjust="spacingAndGlyphs" stroke="#231f20" stroke-width="0.12" >*</text>
<text x="291.60" y="504.52" font-size="8.2" text-anchor="middle" fill="#231f20" textLength="21.10" lengthAdjust="spacingAndGlyphs" stroke="#231f20" stroke-width="0.12" >Jon/A</text>
<text transform="translate(195.80,562.50) rotate(-90)" x="0" y="2.75" font-size="8.0" text-anchor="middle" fill="#231f20" textLength="41.00" lengthAdjust="spacingAndGlyphs" stroke="#231f20" stroke-width="0.12" >Jon/A (MFI)</text>
<text x="240.05" y="625.70" font-size="6.4" text-anchor="middle" fill="#231f20" textLength="3.20" lengthAdjust="spacingAndGlyphs" stroke="#231f20" stroke-width="0.12" >0</text>
<text x="266.50" y="625.70" font-size="6.4" text-anchor="middle" fill="#231f20" textLength="3.20" lengthAdjust="spacingAndGlyphs" stroke="#231f20" stroke-width="0.12" >5</text>
<text x="266.50" y="633.40" font-size="6.4" text-anchor="middle" fill="#231f20" textLength="12.16" lengthAdjust="spacingAndGlyphs" stroke="#231f20" stroke-width="0.12" >CRP</text>
<text x="266.50" y="641.00" font-size="6.4" text-anchor="middle" fill="#231f20" textLength="20.40" lengthAdjust="spacingAndGlyphs" stroke="#231f20" stroke-width="0.12" >(µg/mL)</text>
<text x="292.75" y="625.70" font-size="6.4" text-anchor="middle" fill="#231f20" textLength="11.21" lengthAdjust="spacingAndGlyphs" stroke="#231f20" stroke-width="0.12" >0.12</text>
<text x="292.75" y="633.40" font-size="6.4" text-anchor="middle" fill="#231f20" textLength="8.64" lengthAdjust="spacingAndGlyphs" stroke="#231f20" stroke-width="0.12" >Thr</text>
<text x="292.75" y="641.00" font-size="6.4" text-anchor="middle" fill="#231f20" textLength="17.99" lengthAdjust="spacingAndGlyphs" stroke="#231f20" stroke-width="0.12" >(U/mL)</text>
<text x="319.15" y="625.70" font-size="6.4" text-anchor="middle" fill="#231f20" textLength="6.41" lengthAdjust="spacingAndGlyphs" stroke="#231f20" stroke-width="0.12" >10</text>
<text x="319.15" y="633.40" font-size="6.4" text-anchor="middle" fill="#231f20" textLength="11.84" lengthAdjust="spacingAndGlyphs" stroke="#231f20" stroke-width="0.12" >ADP</text>
<text x="319.15" y="641.00" font-size="6.4" text-anchor="middle" fill="#231f20" textLength="12.22" lengthAdjust="spacingAndGlyphs" stroke="#231f20" stroke-width="0.12" >(µM)</text>
<text x="345.60" y="625.70" font-size="6.4" text-anchor="middle" fill="#231f20" textLength="3.20" lengthAdjust="spacingAndGlyphs" stroke="#231f20" stroke-width="0.12" >1</text>
<text x="345.60" y="633.40" font-size="6.4" text-anchor="middle" fill="#231f20" textLength="10.57" lengthAdjust="spacingAndGlyphs" stroke="#231f20" stroke-width="0.12" >U46</text>
<text x="345.60" y="641.00" font-size="6.4" text-anchor="middle" fill="#231f20" textLength="12.22" lengthAdjust="spacingAndGlyphs" stroke="#231f20" stroke-width="0.12" >(µM)</text>
<text x="219.60" y="633.47" font-size="6.6" text-anchor="end" fill="#231f20" textLength="25.00" lengthAdjust="spacingAndGlyphs" stroke="#231f20" stroke-width="0.12" >[Agonist]</text>
<rect x="221.90" y="651.50" width="10.40" height="6.20" fill="#4a6184" stroke="#354a6a" stroke-width="0.5" />
<text x="235.80" y="656.83" font-size="6.2" text-anchor="start" fill="#231f20" textLength="8.50" lengthAdjust="spacingAndGlyphs" stroke="#231f20" stroke-width="0.12" >WT</text>
<rect x="254.90" y="651.50" width="10.90" height="6.20" fill="#a13646" stroke="#862636" stroke-width="0.5" />
<text x="268.80" y="656.83" font-size="6.2" text-anchor="start" fill="#231f20" textLength="25.80" lengthAdjust="spacingAndGlyphs" stroke="#231f20" stroke-width="0.12" >DGKζ-KO</text>
<line x1="400.00" y1="509.70" x2="400.00" y2="612.30" stroke="#231f20" stroke-width="1.1" />
<line x1="397.00" y1="611.80" x2="400.00" y2="611.80" stroke="#231f20" stroke-width="1.1" />
<text x="394.30" y="614.54" font-size="6.8" text-anchor="end" fill="#231f20" textLength="3.40" lengthAdjust="spacingAndGlyphs" stroke="#231f20" stroke-width="0.12" >0</text>
<line x1="397.00" y1="587.00" x2="400.00" y2="587.00" stroke="#231f20" stroke-width="1.1" />
<text x="394.30" y="589.74" font-size="6.8" text-anchor="end" fill="#231f20" textLength="6.81" lengthAdjust="spacingAndGlyphs" stroke="#231f20" stroke-width="0.12" >50</text>
<line x1="397.00" y1="562.20" x2="400.00" y2="562.20" stroke="#231f20" stroke-width="1.1" />
<text x="394.30" y="564.94" font-size="6.8" text-anchor="end" fill="#231f20" textLength="10.21" lengthAdjust="spacingAndGlyphs" stroke="#231f20" stroke-width="0.12" >100</text>
<line x1="397.00" y1="537.40" x2="400.00" y2="537.40" stroke="#231f20" stroke-width="1.1" />
<text x="394.30" y="540.14" font-size="6.8" text-anchor="end" fill="#231f20" textLength="10.21" lengthAdjust="spacingAndGlyphs" stroke="#231f20" stroke-width="0.12" >150</text>
<line x1="397.00" y1="512.60" x2="400.00" y2="512.60" stroke="#231f20" stroke-width="1.1" />
<text x="394.30" y="515.34" font-size="6.8" text-anchor="end" fill="#231f20" textLength="10.21" lengthAdjust="spacingAndGlyphs" stroke="#231f20" stroke-width="0.12" >200</text>
<rect x="402.35" y="562.20" width="11.80" height="49.60" fill="#4a6184" stroke="#354a6a" stroke-width="0.5" />
<rect x="419.40" y="536.41" width="11.80" height="75.39" fill="#a13646" stroke="#862636" stroke-width="0.5" />
<line x1="425.30" y1="529.96" x2="425.30" y2="536.41" stroke="#231f20" stroke-width="0.9" />
<line x1="422.30" y1="529.96" x2="428.30" y2="529.96" stroke="#231f20" stroke-width="0.9" />
<rect x="436.15" y="562.20" width="11.80" height="49.60" fill="#4a6184" stroke="#354a6a" stroke-width="0.5" />
<rect x="453.20" y="541.37" width="11.80" height="70.43" fill="#a13646" stroke="#862636" stroke-width="0.5" />
<line x1="459.10" y1="534.42" x2="459.10" y2="541.37" stroke="#231f20" stroke-width="0.9" />
<line x1="456.10" y1="534.42" x2="462.10" y2="534.42" stroke="#231f20" stroke-width="0.9" />
<rect x="470.00" y="562.20" width="11.80" height="49.60" fill="#4a6184" stroke="#354a6a" stroke-width="0.5" />
<rect x="487.00" y="570.63" width="11.80" height="41.17" fill="#a13646" stroke="#862636" stroke-width="0.5" />
<line x1="492.90" y1="570.14" x2="492.90" y2="570.63" stroke="#231f20" stroke-width="0.9" />
<line x1="489.90" y1="570.14" x2="495.90" y2="570.14" stroke="#231f20" stroke-width="0.9" />
<line x1="399.50" y1="611.80" x2="502.90" y2="611.80" stroke="#231f20" stroke-width="1.0" />
<line x1="408.25" y1="611.80" x2="408.25" y2="614.80" stroke="#231f20" stroke-width="1.0" />
<line x1="425.30" y1="611.80" x2="425.30" y2="614.80" stroke="#231f20" stroke-width="1.0" />
<line x1="442.05" y1="611.80" x2="442.05" y2="614.80" stroke="#231f20" stroke-width="1.0" />
<line x1="459.10" y1="611.80" x2="459.10" y2="614.80" stroke="#231f20" stroke-width="1.0" />
<line x1="475.90" y1="611.80" x2="475.90" y2="614.80" stroke="#231f20" stroke-width="1.0" />
<line x1="492.90" y1="611.80" x2="492.90" y2="614.80" stroke="#231f20" stroke-width="1.0" />
<text x="425.30" y="530.33" font-size="6.2" text-anchor="middle" fill="#231f20" textLength="5.20" lengthAdjust="spacingAndGlyphs" stroke="#231f20" stroke-width="0.12" >**</text>
<text x="459.10" y="534.93" font-size="6.2" text-anchor="middle" fill="#231f20" textLength="2.60" lengthAdjust="spacingAndGlyphs" stroke="#231f20" stroke-width="0.12" >*</text>
<text x="492.90" y="570.13" font-size="6.2" text-anchor="middle" fill="#231f20" textLength="7.80" lengthAdjust="spacingAndGlyphs" stroke="#231f20" stroke-width="0.12" >***</text>
<text x="408.25" y="625.07" font-size="6.6" text-anchor="middle" fill="#231f20" textLength="9.23" lengthAdjust="spacingAndGlyphs" stroke="#231f20" stroke-width="0.12" >WT</text>
<text x="425.30" y="625.07" font-size="6.6" text-anchor="middle" fill="#231f20" textLength="8.58" lengthAdjust="spacingAndGlyphs" stroke="#231f20" stroke-width="0.12" >KO</text>
<text x="442.05" y="625.07" font-size="6.6" text-anchor="middle" fill="#231f20" textLength="9.23" lengthAdjust="spacingAndGlyphs" stroke="#231f20" stroke-width="0.12" >WT</text>
<text x="459.10" y="625.07" font-size="6.6" text-anchor="middle" fill="#231f20" textLength="8.58" lengthAdjust="spacingAndGlyphs" stroke="#231f20" stroke-width="0.12" >KO</text>
<text x="475.90" y="625.07" font-size="6.6" text-anchor="middle" fill="#231f20" textLength="9.23" lengthAdjust="spacingAndGlyphs" stroke="#231f20" stroke-width="0.12" >WT</text>
<text x="492.90" y="625.07" font-size="6.6" text-anchor="middle" fill="#231f20" textLength="8.58" lengthAdjust="spacingAndGlyphs" stroke="#231f20" stroke-width="0.12" >KO</text>
<line x1="404.50" y1="627.60" x2="428.80" y2="627.60" stroke="#6d6d6d" stroke-width="1.1" />
<text x="416.65" y="636.17" font-size="6.6" text-anchor="middle" fill="#231f20" textLength="12.54" lengthAdjust="spacingAndGlyphs" stroke="#231f20" stroke-width="0.12" >CRP</text>
<line x1="438.40" y1="627.60" x2="462.70" y2="627.60" stroke="#6d6d6d" stroke-width="1.1" />
<text x="450.55" y="636.17" font-size="6.6" text-anchor="middle" fill="#231f20" textLength="8.91" lengthAdjust="spacingAndGlyphs" stroke="#231f20" stroke-width="0.12" >Col</text>
<line x1="472.20" y1="627.60" x2="497.00" y2="627.60" stroke="#6d6d6d" stroke-width="1.1" />
<text x="484.60" y="636.17" font-size="6.6" text-anchor="middle" fill="#231f20" textLength="8.91" lengthAdjust="spacingAndGlyphs" stroke="#231f20" stroke-width="0.12" >Thr</text>
<text transform="translate(373.80,560.20) rotate(-90)" x="0" y="2.75" font-size="8.0" text-anchor="middle" fill="#231f20" textLength="89.00" lengthAdjust="spacingAndGlyphs" stroke="#231f20" stroke-width="0.12" >Peak ATP release (% WT)</text>
<rect x="0.00" y="0.00" width="520.00" height="1.00" fill="#474747" />
<rect x="0.00" y="1.00" width="520.00" height="1.00" fill="#b8b8b8" />
<rect x="518.00" y="0.00" width="1.00" height="666.00" fill="#a0a0a0" />
<rect x="519.00" y="0.00" width="1.00" height="666.00" fill="#444444" />
<rect x="0.00" y="665.00" width="520.00" height="1.00" fill="#0a0a0a" />
<rect x="0.00" y="664.00" width="520.00" height="1.00" fill="#9a9a9a" />
<rect x="0.00" y="0.00" width="1.00" height="666.00" fill="#0a0a0a" />
<rect x="1.00" y="0.00" width="1.00" height="666.00" fill="#a0a0a0" />
</svg></body></html>
